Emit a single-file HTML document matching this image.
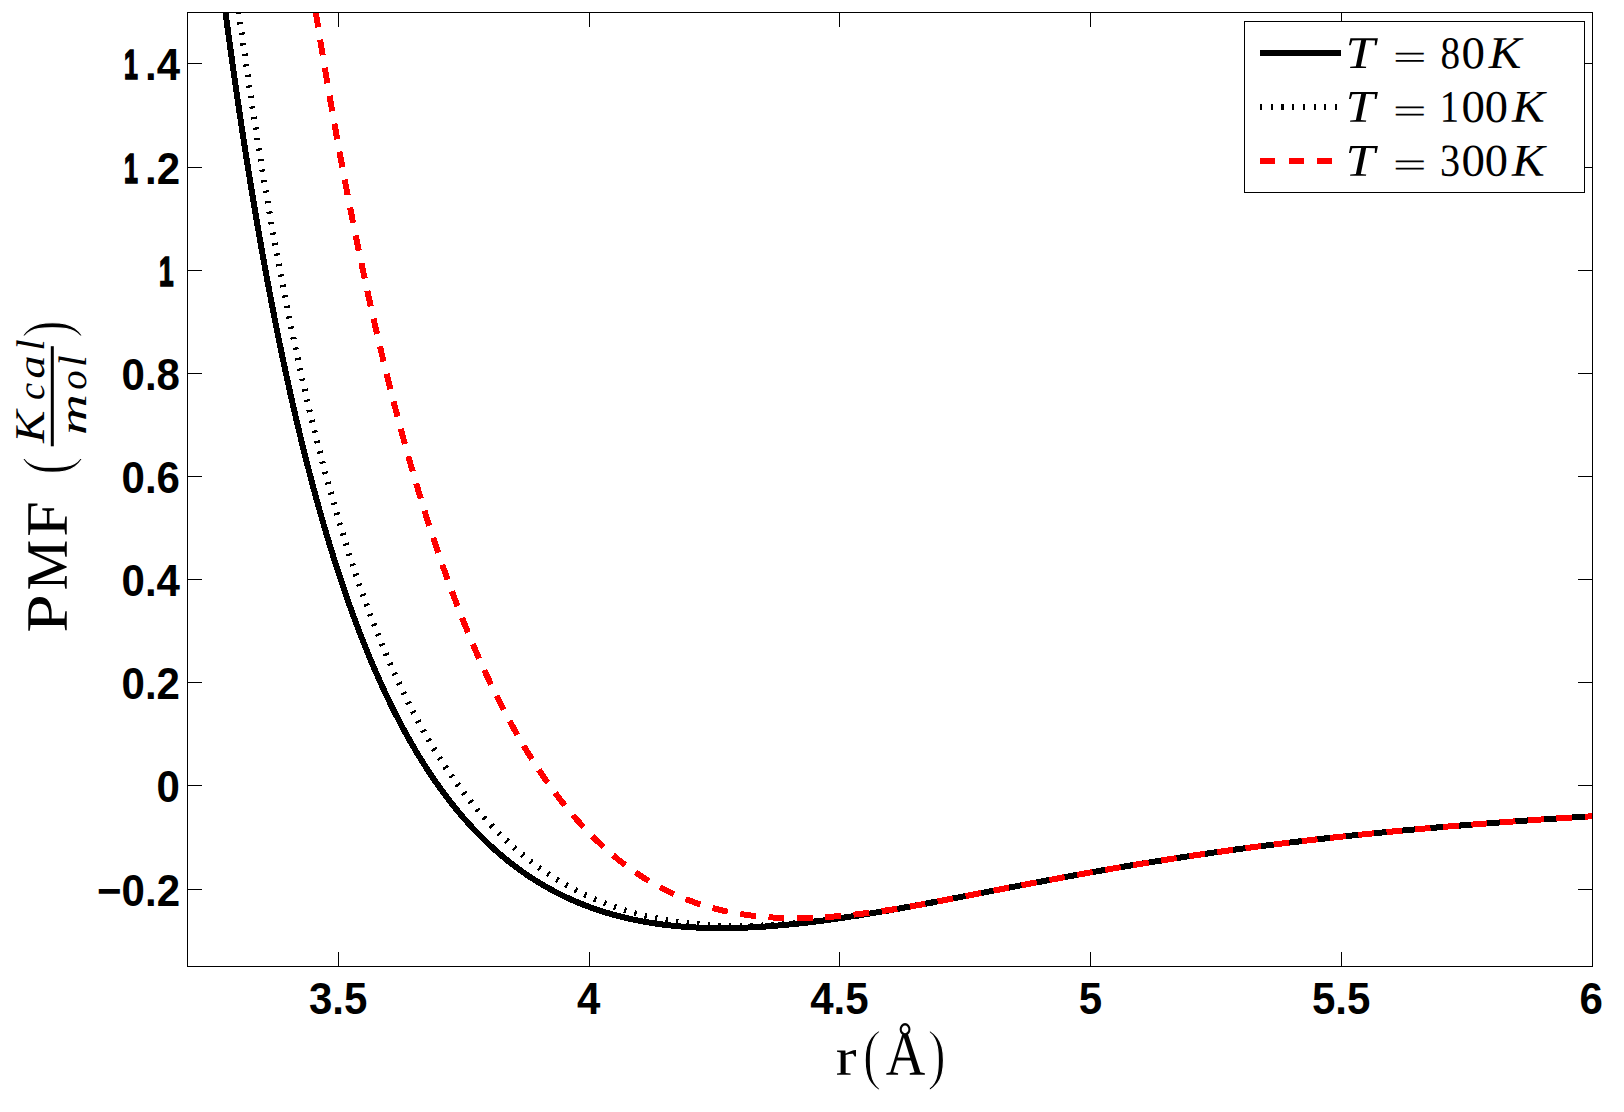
<!DOCTYPE html>
<html><head><meta charset="utf-8"><title>PMF</title>
<style>
html,body{margin:0;padding:0;background:#fff;overflow:hidden;}
svg{display:block;}
.tk{font-family:"Liberation Sans",sans-serif;font-weight:bold;font-size:44px;fill:#000;}
.sf{font-family:"Liberation Serif",serif;fill:#000;}
</style></head><body>
<svg width="1624" height="1112" viewBox="0 0 1624 1112">
<rect x="0" y="0" width="1624" height="1112" fill="#fff"/>
<defs><clipPath id="ax"><rect x="187.5" y="12.5" width="1405.0" height="954.0"/></clipPath></defs>

<g clip-path="url(#ax)" fill="none" stroke-linejoin="round" shape-rendering="crispEdges">
<path d="M221.35,-19.64 L221.55,-18.07 L221.75,-16.51 L221.95,-14.95 L222.15,-13.39 L222.35,-11.84 L222.55,-10.29 L222.75,-8.74 L222.95,-7.19 L223.15,-5.64 L223.35,-4.10 L223.55,-2.56 L223.75,-1.02 L223.95,0.51 L224.15,2.04 L224.35,3.57 L224.55,5.10 L224.75,6.62 L224.95,8.14 L225.15,9.66 L225.35,11.18 L225.55,12.69 L225.75,14.21 L225.95,15.71 L226.15,17.22 L226.35,18.73 L226.55,20.23 L226.75,21.73 L226.95,23.22 L227.15,24.72 L227.35,26.21 L227.55,27.70 L227.75,29.19 L228.00,31.04 L228.25,32.89 L228.50,34.74 L228.75,36.58 L229.00,38.42 L229.25,40.26 L229.50,42.09 L229.75,43.92 L230.00,45.75 L230.25,47.57 L230.50,49.39 L230.75,51.20 L231.00,53.01 L231.25,54.81 L231.50,56.62 L231.75,58.42 L232.00,60.21 L232.25,62.00 L232.50,63.79 L232.75,65.57 L233.00,67.35 L233.25,69.13 L233.50,70.90 L233.75,72.67 L234.00,74.44 L234.25,76.20 L234.50,77.96 L234.75,79.72 L235.00,81.47 L235.25,83.21 L235.50,84.96 L235.75,86.70 L236.00,88.44 L236.25,90.17 L236.50,91.90 L236.75,93.63 L237.00,95.35 L237.25,97.07 L237.50,98.78 L237.75,100.50 L238.00,102.20 L238.25,103.91 L238.50,105.61 L238.75,107.31 L239.00,109.00 L239.25,110.70 L239.50,112.38 L239.75,114.07 L240.00,115.75 L240.25,117.43 L240.50,119.10 L240.75,120.77 L241.00,122.44 L241.25,124.10 L241.50,125.76 L241.75,127.42 L242.00,129.07 L242.25,130.72 L242.50,132.37 L242.75,134.01 L243.00,135.65 L243.25,137.29 L243.50,138.92 L243.75,140.55 L244.00,142.18 L244.25,143.81 L244.50,145.43 L244.75,147.04 L245.00,148.66 L245.25,150.27 L245.50,151.87 L245.75,153.48 L246.00,155.08 L246.25,156.67 L246.50,158.27 L246.75,159.86 L247.00,161.45 L247.25,163.03 L247.50,164.61 L247.75,166.19 L248.00,167.76 L248.25,169.34 L248.50,170.90 L248.75,172.47 L249.00,174.03 L249.25,175.59 L249.50,177.15 L249.75,178.70 L250.00,180.25 L250.25,181.79 L250.50,183.34 L250.75,184.88 L251.00,186.41 L251.25,187.95 L251.50,189.48 L251.75,191.00 L252.00,192.53 L252.25,194.05 L252.50,195.57 L252.75,197.08 L253.00,198.59 L253.25,200.10 L253.50,201.61 L253.75,203.11 L254.00,204.61 L254.25,206.11 L254.50,207.60 L254.75,209.09 L255.00,210.58 L255.25,212.06 L255.50,213.54 L255.80,215.32 L256.10,217.09 L256.40,218.85 L256.70,220.61 L257.00,222.37 L257.30,224.12 L257.60,225.87 L257.90,227.62 L258.20,229.36 L258.50,231.09 L258.80,232.82 L259.10,234.55 L259.40,236.27 L259.70,237.99 L260.00,239.71 L260.30,241.42 L260.60,243.12 L260.90,244.82 L261.20,246.52 L261.50,248.22 L261.80,249.91 L262.10,251.59 L262.40,253.27 L262.70,254.95 L263.00,256.62 L263.30,258.29 L263.60,259.96 L263.90,261.62 L264.20,263.28 L264.50,264.93 L264.80,266.58 L265.10,268.23 L265.40,269.87 L265.70,271.50 L266.00,273.14 L266.30,274.77 L266.60,276.39 L266.90,278.01 L267.20,279.63 L267.50,281.25 L267.80,282.86 L268.10,284.46 L268.40,286.06 L268.70,287.66 L269.00,289.26 L269.30,290.85 L269.60,292.43 L269.90,294.02 L270.20,295.60 L270.50,297.17 L270.80,298.74 L271.10,300.31 L271.40,301.88 L271.70,303.44 L272.00,304.99 L272.30,306.55 L272.60,308.09 L272.90,309.64 L273.20,311.18 L273.50,312.72 L273.80,314.25 L274.10,315.78 L274.40,317.31 L274.70,318.83 L275.00,320.35 L275.30,321.87 L275.60,323.38 L275.90,324.89 L276.20,326.39 L276.50,327.90 L276.80,329.39 L277.10,330.89 L277.40,332.38 L277.70,333.87 L278.00,335.35 L278.30,336.83 L278.60,338.31 L278.90,339.78 L279.25,341.49 L279.60,343.20 L279.95,344.91 L280.30,346.60 L280.65,348.30 L281.00,349.99 L281.35,351.67 L281.70,353.36 L282.05,355.03 L282.40,356.70 L282.75,358.37 L283.10,360.03 L283.45,361.69 L283.80,363.34 L284.15,364.99 L284.50,366.63 L284.85,368.27 L285.20,369.90 L285.55,371.53 L285.90,373.16 L286.25,374.78 L286.60,376.40 L286.95,378.01 L287.30,379.62 L287.65,381.22 L288.00,382.82 L288.35,384.41 L288.70,386.00 L289.05,387.58 L289.40,389.16 L289.75,390.74 L290.10,392.31 L290.45,393.88 L290.80,395.44 L291.15,397.00 L291.50,398.56 L291.85,400.11 L292.20,401.65 L292.55,403.19 L292.90,404.73 L293.25,406.26 L293.60,407.79 L293.95,409.32 L294.30,410.84 L294.65,412.35 L295.00,413.86 L295.35,415.37 L295.70,416.88 L296.05,418.37 L296.40,419.87 L296.75,421.36 L297.10,422.85 L297.45,424.33 L297.80,425.81 L298.15,427.28 L298.50,428.75 L298.85,430.22 L299.20,431.68 L299.60,433.35 L300.00,435.01 L300.40,436.66 L300.80,438.32 L301.20,439.96 L301.60,441.60 L302.00,443.24 L302.40,444.87 L302.80,446.49 L303.20,448.11 L303.60,449.72 L304.00,451.33 L304.40,452.94 L304.80,454.54 L305.20,456.13 L305.60,457.72 L306.00,459.30 L306.40,460.88 L306.80,462.46 L307.20,464.03 L307.60,465.59 L308.00,467.15 L308.40,468.70 L308.80,470.25 L309.20,471.80 L309.60,473.34 L310.00,474.87 L310.40,476.40 L310.80,477.93 L311.20,479.45 L311.60,480.96 L312.00,482.47 L312.40,483.98 L312.80,485.48 L313.20,486.98 L313.60,488.47 L314.00,489.96 L314.40,491.44 L314.80,492.92 L315.20,494.39 L315.60,495.86 L316.00,497.32 L316.40,498.78 L316.80,500.24 L317.20,501.69 L317.60,503.13 L318.05,504.76 L318.50,506.37 L318.95,507.98 L319.40,509.58 L319.85,511.18 L320.30,512.78 L320.75,514.36 L321.20,515.94 L321.65,517.52 L322.10,519.09 L322.55,520.66 L323.00,522.22 L323.45,523.77 L323.90,525.32 L324.35,526.86 L324.80,528.40 L325.25,529.93 L325.70,531.46 L326.15,532.98 L326.60,534.49 L327.05,536.01 L327.50,537.51 L327.95,539.01 L328.40,540.51 L328.85,541.99 L329.30,543.48 L329.75,544.96 L330.20,546.43 L330.65,547.90 L331.10,549.36 L331.55,550.82 L332.00,552.28 L332.45,553.72 L332.90,555.17 L333.35,556.61 L333.80,558.04 L334.30,559.63 L334.80,561.21 L335.30,562.78 L335.80,564.35 L336.30,565.91 L336.80,567.47 L337.30,569.02 L337.80,570.56 L338.30,572.10 L338.80,573.63 L339.30,575.15 L339.80,576.67 L340.30,578.19 L340.80,579.70 L341.30,581.20 L341.80,582.69 L342.30,584.18 L342.80,585.67 L343.30,587.15 L343.80,588.62 L344.30,590.09 L344.80,591.55 L345.30,593.01 L345.80,594.46 L346.30,595.90 L346.80,597.34 L347.30,598.77 L347.80,600.20 L348.30,601.62 L348.80,603.04 L349.35,604.59 L349.90,606.14 L350.45,607.68 L351.00,609.21 L351.55,610.74 L352.10,612.26 L352.65,613.77 L353.20,615.28 L353.75,616.78 L354.30,618.27 L354.85,619.76 L355.40,621.24 L355.95,622.71 L356.50,624.18 L357.05,625.64 L357.60,627.10 L358.15,628.55 L358.70,629.99 L359.25,631.43 L359.80,632.86 L360.35,634.29 L360.90,635.71 L361.45,637.12 L362.00,638.53 L362.55,639.93 L363.15,641.45 L363.75,642.96 L364.35,644.47 L364.95,645.97 L365.55,647.47 L366.15,648.95 L366.75,650.43 L367.35,651.91 L367.95,653.37 L368.55,654.83 L369.15,656.28 L369.75,657.73 L370.35,659.17 L370.95,660.60 L371.55,662.03 L372.15,663.45 L372.75,664.86 L373.35,666.26 L373.95,667.66 L374.55,669.06 L375.15,670.44 L375.75,671.82 L376.40,673.31 L377.05,674.79 L377.70,676.27 L378.35,677.73 L379.00,679.19 L379.65,680.64 L380.30,682.08 L380.95,683.52 L381.60,684.95 L382.25,686.37 L382.90,687.79 L383.55,689.19 L384.20,690.59 L384.85,691.99 L385.50,693.38 L386.15,694.75 L386.80,696.13 L387.45,697.49 L388.10,698.85 L388.75,700.20 L389.45,701.65 L390.15,703.09 L390.85,704.53 L391.55,705.95 L392.25,707.37 L392.95,708.78 L393.65,710.18 L394.35,711.58 L395.05,712.96 L395.75,714.34 L396.45,715.72 L397.15,717.08 L397.85,718.44 L398.55,719.79 L399.25,721.13 L399.95,722.47 L400.65,723.79 L401.40,725.21 L402.15,726.62 L402.90,728.02 L403.65,729.41 L404.40,730.79 L405.15,732.16 L405.90,733.53 L406.65,734.89 L407.40,736.24 L408.15,737.58 L408.90,738.92 L409.65,740.24 L410.40,741.56 L411.15,742.88 L411.90,744.18 L412.70,745.56 L413.50,746.94 L414.30,748.30 L415.10,749.66 L415.90,751.01 L416.70,752.35 L417.50,753.68 L418.30,755.01 L419.10,756.32 L419.90,757.63 L420.70,758.93 L421.50,760.22 L422.30,761.50 L423.10,762.78 L423.95,764.12 L424.80,765.46 L425.65,766.79 L426.50,768.11 L427.35,769.42 L428.20,770.72 L429.05,772.02 L429.90,773.30 L430.75,774.58 L431.60,775.85 L432.45,777.11 L433.30,778.36 L434.15,779.60 L435.05,780.91 L435.95,782.21 L436.85,783.49 L437.75,784.77 L438.65,786.05 L439.55,787.31 L440.45,788.56 L441.35,789.80 L442.25,791.04 L443.15,792.27 L444.05,793.48 L444.95,794.69 L445.85,795.89 L446.80,797.15 L447.75,798.40 L448.70,799.64 L449.65,800.87 L450.60,802.09 L451.55,803.30 L452.50,804.50 L453.45,805.70 L454.40,806.88 L455.35,808.06 L456.30,809.22 L457.30,810.44 L458.30,811.65 L459.30,812.85 L460.30,814.04 L461.30,815.22 L462.30,816.39 L463.30,817.55 L464.30,818.71 L465.30,819.85 L466.30,820.98 L467.30,822.11 L468.35,823.28 L469.40,824.44 L470.45,825.59 L471.50,826.73 L472.55,827.87 L473.60,828.99 L474.65,830.10 L475.70,831.21 L476.75,832.30 L477.80,833.38 L478.85,834.46 L479.95,835.58 L481.05,836.69 L482.15,837.78 L483.25,838.87 L484.35,839.95 L485.45,841.02 L486.55,842.07 L487.65,843.12 L488.75,844.16 L489.85,845.19 L490.95,846.21 L492.10,847.27 L493.25,848.32 L494.40,849.35 L495.55,850.38 L496.70,851.40 L497.85,852.41 L499.00,853.40 L500.15,854.39 L501.30,855.37 L502.45,856.34 L503.65,857.34 L504.85,858.33 L506.05,859.32 L507.25,860.29 L508.45,861.25 L509.65,862.20 L510.85,863.14 L512.05,864.08 L513.25,865.00 L514.45,865.91 L515.65,866.82 L516.90,867.75 L518.15,868.67 L519.40,869.58 L520.65,870.48 L521.90,871.38 L523.15,872.26 L524.40,873.13 L525.65,873.99 L526.90,874.85 L528.15,875.69 L529.40,876.53 L530.70,877.38 L532.00,878.23 L533.30,879.07 L534.60,879.90 L535.90,880.72 L537.20,881.53 L538.50,882.33 L539.80,883.12 L541.10,883.90 L542.40,884.67 L543.70,885.44 L545.00,886.19 L546.35,886.96 L547.70,887.73 L549.05,888.48 L550.40,889.23 L551.75,889.96 L553.10,890.69 L554.45,891.40 L555.80,892.11 L557.15,892.81 L558.50,893.50 L559.85,894.18 L561.20,894.85 L562.55,895.51 L563.95,896.19 L565.35,896.86 L566.75,897.51 L568.15,898.16 L569.55,898.80 L570.95,899.44 L572.35,900.06 L573.75,900.67 L575.15,901.28 L576.55,901.88 L577.95,902.46 L579.35,903.04 L580.75,903.61 L582.15,904.18 L583.55,904.73 L584.95,905.28 L586.40,905.83 L587.85,906.38 L589.30,906.92 L590.75,907.45 L592.20,907.98 L593.65,908.49 L595.10,909.00 L596.55,909.49 L598.00,909.98 L599.45,910.47 L600.90,910.94 L602.35,911.40 L603.80,911.86 L605.25,912.31 L606.70,912.75 L608.15,913.19 L609.60,913.62 L611.05,914.03 L612.50,914.45 L613.95,914.85 L615.40,915.25 L616.85,915.64 L618.35,916.03 L619.85,916.42 L621.35,916.80 L622.85,917.17 L624.35,917.54 L625.85,917.90 L627.35,918.25 L628.85,918.59 L630.35,918.93 L631.85,919.26 L633.35,919.58 L634.85,919.89 L636.35,920.20 L637.85,920.50 L639.35,920.80 L640.85,921.09 L642.35,921.37 L643.85,921.64 L645.35,921.91 L646.85,922.17 L648.35,922.43 L649.85,922.67 L651.35,922.92 L652.85,923.15 L654.35,923.38 L655.85,923.61 L657.35,923.82 L658.85,924.03 L660.35,924.24 L661.85,924.44 L663.35,924.63 L664.85,924.82 L666.35,925.00 L667.85,925.18 L669.35,925.35 L670.85,925.51 L672.35,925.67 L673.85,925.83 L675.35,925.97 L676.85,926.12 L678.35,926.25 L679.85,926.39 L681.35,926.51 L682.85,926.63 L684.35,926.75 L685.85,926.86 L687.35,926.97 L688.85,927.07 L690.35,927.17 L691.85,927.26 L693.35,927.34 L694.85,927.42 L696.35,927.50 L697.85,927.57 L699.35,927.64 L700.85,927.70 L702.35,927.76 L703.85,927.81 L705.35,927.86 L706.85,927.90 L708.35,927.94 L709.85,927.98 L711.35,928.01 L712.85,928.04 L714.35,928.06 L715.85,928.08 L717.35,928.09 L718.85,928.10 L720.35,928.10 L721.85,928.10 L723.35,928.10 L724.85,928.09 L726.35,928.08 L727.85,928.07 L729.35,928.05 L730.85,928.03 L732.35,928.00 L733.85,927.97 L735.35,927.94 L736.85,927.90 L738.35,927.86 L739.85,927.81 L741.35,927.76 L742.85,927.71 L744.35,927.65 L745.85,927.59 L747.35,927.53 L748.85,927.46 L750.35,927.39 L751.85,927.32 L753.35,927.24 L754.85,927.16 L756.35,927.08 L757.85,926.99 L759.35,926.90 L760.85,926.81 L762.35,926.71 L763.85,926.62 L765.35,926.51 L766.85,926.41 L768.35,926.30 L769.85,926.19 L771.35,926.07 L772.85,925.96 L774.35,925.84 L775.85,925.71 L777.35,925.59 L778.85,925.46 L780.35,925.33 L781.85,925.19 L783.35,925.06 L784.85,924.92 L786.35,924.78 L787.85,924.63 L789.35,924.48 L790.85,924.34 L792.35,924.18 L793.85,924.03 L795.35,923.87 L796.85,923.71 L798.35,923.55 L799.85,923.38 L801.35,923.22 L802.85,923.05 L804.35,922.88 L805.85,922.70 L807.35,922.53 L808.85,922.35 L810.35,922.17 L811.85,921.99 L813.35,921.80 L814.85,921.61 L816.35,921.42 L817.85,921.23 L819.35,921.04 L820.85,920.85 L822.35,920.65 L823.85,920.45 L825.35,920.25 L826.85,920.05 L828.35,919.84 L829.85,919.63 L831.35,919.43 L832.85,919.22 L834.35,919.00 L835.85,918.79 L837.35,918.58 L838.85,918.36 L840.35,918.14 L841.85,917.92 L843.35,917.70 L844.85,917.47 L846.35,917.25 L847.85,917.02 L849.35,916.79 L850.85,916.56 L852.35,916.33 L853.85,916.10 L855.35,915.86 L856.85,915.63 L858.35,915.39 L859.85,915.15 L861.35,914.91 L862.85,914.67 L864.35,914.43 L865.85,914.18 L867.35,913.94 L868.85,913.69 L870.35,913.44 L871.85,913.19 L873.35,912.94 L874.85,912.69 L876.35,912.44 L877.85,912.19 L879.35,911.93 L880.85,911.68 L882.35,911.42 L883.85,911.16 L885.35,910.90 L886.85,910.64 L888.35,910.38 L889.85,910.12 L891.35,909.86 L892.85,909.59 L894.35,909.33 L895.85,909.06 L897.35,908.80 L898.85,908.53 L900.35,908.26 L901.85,907.99 L903.35,907.72 L904.85,907.45 L906.35,907.18 L907.85,906.91 L909.35,906.63 L910.85,906.36 L912.35,906.09 L913.85,905.81 L915.35,905.54 L916.85,905.26 L918.35,904.98 L919.85,904.71 L921.35,904.43 L922.85,904.15 L924.35,903.87 L925.85,903.59 L927.35,903.31 L928.85,903.03 L930.35,902.75 L931.85,902.46 L933.35,902.18 L934.85,901.90 L936.35,901.62 L937.85,901.33 L939.35,901.05 L940.85,900.76 L942.35,900.48 L943.85,900.19 L945.35,899.91 L946.85,899.62 L948.35,899.34 L949.85,899.05 L951.35,898.76 L952.85,898.48 L954.35,898.19 L955.85,897.90 L957.35,897.61 L958.85,897.33 L960.35,897.04 L961.85,896.75 L963.35,896.46 L964.85,896.17 L966.35,895.88 L967.85,895.59 L969.35,895.30 L970.85,895.01 L972.35,894.73 L973.85,894.44 L975.35,894.15 L976.85,893.86 L978.35,893.57 L979.85,893.28 L981.35,892.99 L982.85,892.70 L984.35,892.41 L985.85,892.12 L987.35,891.83 L988.85,891.54 L990.35,891.25 L991.85,890.96 L993.35,890.67 L994.85,890.38 L996.35,890.09 L997.85,889.80 L999.35,889.51 L1000.85,889.22 L1002.35,888.93 L1003.85,888.64 L1005.35,888.36 L1006.85,888.07 L1008.35,887.78 L1009.85,887.49 L1011.35,887.20 L1012.85,886.91 L1014.35,886.63 L1015.85,886.34 L1017.35,886.05 L1018.85,885.76 L1020.35,885.48 L1021.85,885.19 L1023.35,884.90 L1024.85,884.62 L1026.35,884.33 L1027.85,884.05 L1029.35,883.76 L1030.85,883.48 L1032.35,883.19 L1033.85,882.91 L1035.35,882.62 L1036.85,882.34 L1038.35,882.06 L1039.85,881.77 L1041.35,881.49 L1042.85,881.21 L1044.35,880.93 L1045.85,880.64 L1047.35,880.36 L1048.85,880.08 L1050.35,879.80 L1051.85,879.52 L1053.35,879.24 L1054.85,878.96 L1056.35,878.68 L1057.85,878.41 L1059.35,878.13 L1060.85,877.85 L1062.35,877.57 L1063.85,877.30 L1065.35,877.02 L1066.85,876.74 L1068.35,876.47 L1069.85,876.19 L1071.35,875.92 L1072.85,875.65 L1074.35,875.37 L1075.85,875.10 L1077.35,874.83 L1078.85,874.56 L1080.35,874.29 L1081.85,874.01 L1083.35,873.74 L1084.85,873.47 L1086.35,873.20 L1087.85,872.94 L1089.35,872.67 L1090.85,872.40 L1092.35,872.13 L1093.85,871.87 L1095.35,871.60 L1096.85,871.34 L1098.35,871.07 L1099.85,870.81 L1101.35,870.54 L1102.85,870.28 L1104.35,870.02 L1105.85,869.75 L1107.35,869.49 L1108.85,869.23 L1110.35,868.97 L1111.85,868.71 L1113.35,868.45 L1114.85,868.20 L1116.35,867.94 L1117.85,867.68 L1119.35,867.42 L1120.85,867.17 L1122.35,866.91 L1123.85,866.66 L1125.35,866.40 L1126.85,866.15 L1128.35,865.90 L1129.85,865.64 L1131.35,865.39 L1132.85,865.14 L1134.35,864.89 L1135.85,864.64 L1137.35,864.39 L1138.85,864.14 L1140.35,863.90 L1141.85,863.65 L1143.35,863.40 L1144.85,863.16 L1146.35,862.91 L1147.85,862.67 L1149.35,862.42 L1150.85,862.18 L1152.35,861.94 L1153.85,861.70 L1155.35,861.45 L1156.85,861.21 L1158.35,860.97 L1159.85,860.73 L1161.35,860.50 L1162.85,860.26 L1164.35,860.02 L1165.85,859.78 L1167.35,859.55 L1168.85,859.31 L1170.35,859.08 L1171.85,858.84 L1173.35,858.61 L1174.85,858.38 L1176.35,858.15 L1177.85,857.92 L1179.35,857.68 L1180.85,857.45 L1182.35,857.23 L1183.85,857.00 L1185.35,856.77 L1186.85,856.54 L1188.35,856.32 L1189.85,856.09 L1191.35,855.86 L1192.85,855.64 L1194.35,855.42 L1195.85,855.19 L1197.35,854.97 L1198.85,854.75 L1200.35,854.53 L1201.85,854.31 L1203.35,854.09 L1204.85,853.87 L1206.35,853.65 L1207.85,853.43 L1209.35,853.22 L1210.85,853.00 L1212.35,852.78 L1213.85,852.57 L1215.35,852.35 L1216.85,852.14 L1218.35,851.93 L1219.85,851.72 L1221.35,851.50 L1222.85,851.29 L1224.35,851.08 L1225.85,850.87 L1227.35,850.66 L1228.85,850.46 L1230.35,850.25 L1231.85,850.04 L1233.35,849.84 L1234.85,849.63 L1236.35,849.42 L1237.85,849.22 L1239.35,849.02 L1240.85,848.81 L1242.35,848.61 L1243.85,848.41 L1245.35,848.21 L1246.85,848.01 L1248.35,847.81 L1249.85,847.61 L1251.35,847.41 L1252.85,847.21 L1254.35,847.02 L1255.85,846.82 L1257.35,846.63 L1258.85,846.43 L1260.35,846.24 L1261.85,846.04 L1263.35,845.85 L1264.85,845.66 L1266.35,845.47 L1267.85,845.27 L1269.35,845.08 L1270.85,844.89 L1272.35,844.71 L1273.85,844.52 L1275.35,844.33 L1276.85,844.14 L1278.35,843.95 L1279.85,843.77 L1281.35,843.58 L1282.85,843.40 L1284.35,843.21 L1285.85,843.03 L1287.35,842.85 L1288.85,842.67 L1290.35,842.48 L1291.85,842.30 L1293.35,842.12 L1294.85,841.94 L1296.35,841.76 L1297.85,841.59 L1299.35,841.41 L1300.85,841.23 L1302.35,841.05 L1303.85,840.88 L1305.35,840.70 L1306.85,840.53 L1308.35,840.35 L1309.85,840.18 L1311.35,840.01 L1312.85,839.83 L1314.35,839.66 L1315.85,839.49 L1317.35,839.32 L1318.85,839.15 L1320.35,838.98 L1321.85,838.81 L1323.35,838.64 L1324.85,838.48 L1326.35,838.31 L1327.85,838.14 L1329.35,837.98 L1330.85,837.81 L1332.35,837.65 L1333.85,837.48 L1335.35,837.32 L1336.85,837.16 L1338.35,836.99 L1339.85,836.83 L1341.35,836.67 L1342.85,836.51 L1344.35,836.35 L1345.85,836.19 L1347.35,836.03 L1348.85,835.87 L1350.35,835.71 L1351.85,835.56 L1353.35,835.40 L1354.85,835.24 L1356.35,835.09 L1357.85,834.93 L1359.35,834.78 L1360.85,834.62 L1362.35,834.47 L1363.85,834.32 L1365.35,834.16 L1366.85,834.01 L1368.35,833.86 L1369.85,833.71 L1371.35,833.56 L1372.85,833.41 L1374.35,833.26 L1375.85,833.11 L1377.35,832.96 L1378.85,832.81 L1380.35,832.67 L1381.85,832.52 L1383.35,832.37 L1384.85,832.23 L1386.35,832.08 L1387.85,831.94 L1389.35,831.79 L1390.85,831.65 L1392.35,831.51 L1393.85,831.36 L1395.35,831.22 L1396.85,831.08 L1398.35,830.94 L1399.85,830.80 L1401.35,830.66 L1402.85,830.52 L1404.35,830.38 L1405.85,830.24 L1407.35,830.10 L1408.85,829.96 L1410.35,829.83 L1411.85,829.69 L1413.35,829.55 L1414.85,829.42 L1416.35,829.28 L1417.85,829.15 L1419.35,829.01 L1420.85,828.88 L1422.35,828.75 L1423.85,828.61 L1425.35,828.48 L1426.85,828.35 L1428.35,828.22 L1429.85,828.08 L1431.35,827.95 L1432.85,827.82 L1434.35,827.69 L1435.85,827.56 L1437.35,827.44 L1438.85,827.31 L1440.35,827.18 L1441.85,827.05 L1443.35,826.92 L1444.85,826.80 L1446.35,826.67 L1447.85,826.55 L1449.35,826.42 L1450.85,826.30 L1452.35,826.17 L1453.85,826.05 L1455.35,825.92 L1456.85,825.80 L1458.35,825.68 L1459.85,825.56 L1461.35,825.43 L1462.85,825.31 L1464.35,825.19 L1465.85,825.07 L1467.35,824.95 L1468.85,824.83 L1470.35,824.71 L1471.85,824.59 L1473.35,824.47 L1474.85,824.36 L1476.35,824.24 L1477.85,824.12 L1479.35,824.00 L1480.85,823.89 L1482.35,823.77 L1483.85,823.66 L1485.35,823.54 L1486.85,823.43 L1488.35,823.31 L1489.85,823.20 L1491.35,823.08 L1492.85,822.97 L1494.35,822.86 L1495.85,822.75 L1497.35,822.63 L1498.85,822.52 L1500.35,822.41 L1501.85,822.30 L1503.35,822.19 L1504.85,822.08 L1506.35,821.97 L1507.85,821.86 L1509.35,821.75 L1510.85,821.64 L1512.35,821.53 L1513.85,821.43 L1515.35,821.32 L1516.85,821.21 L1518.35,821.10 L1519.85,821.00 L1521.35,820.89 L1522.85,820.79 L1524.35,820.68 L1525.85,820.57 L1527.35,820.47 L1528.85,820.37 L1530.35,820.26 L1531.85,820.16 L1533.35,820.06 L1534.85,819.95 L1536.35,819.85 L1537.85,819.75 L1539.35,819.65 L1540.85,819.54 L1542.35,819.44 L1543.85,819.34 L1545.35,819.24 L1546.85,819.14 L1548.35,819.04 L1549.85,818.94 L1551.35,818.84 L1552.85,818.75 L1554.35,818.65 L1555.85,818.55 L1557.35,818.45 L1558.85,818.35 L1560.35,818.26 L1561.85,818.16 L1563.35,818.06 L1564.85,817.97 L1566.35,817.87 L1567.85,817.78 L1569.35,817.68 L1570.85,817.59 L1572.35,817.49 L1573.85,817.40 L1575.35,817.30 L1576.85,817.21 L1578.35,817.12 L1579.85,817.02 L1581.35,816.93 L1582.85,816.84 L1584.35,816.75 L1585.85,816.66 L1587.35,816.57 L1588.85,816.47 L1590.35,816.38 L1591.85,816.29 L1593.35,816.20 L1594.85,816.11 L1596.35,816.02 L1597.85,815.93 L1599.35,815.85 L1600.00,815.81" stroke="#000" stroke-width="6"/>
<path d="M234.55,-19.87 L234.75,-18.34 L234.95,-16.82 L235.15,-15.30 L235.35,-13.78 L235.55,-12.26 L235.75,-10.75 L235.95,-9.23 L236.15,-7.73 L236.35,-6.22 L236.55,-4.72 L236.75,-3.21 L236.95,-1.71 L237.15,-0.22 L237.35,1.28 L237.55,2.77 L237.75,4.26 L237.95,5.74 L238.20,7.60 L238.45,9.45 L238.70,11.30 L238.95,13.14 L239.20,14.98 L239.45,16.82 L239.70,18.65 L239.95,20.48 L240.20,22.31 L240.45,24.13 L240.70,25.95 L240.95,27.76 L241.20,29.57 L241.45,31.38 L241.70,33.18 L241.95,34.98 L242.20,36.78 L242.45,38.57 L242.70,40.36 L242.95,42.14 L243.20,43.92 L243.45,45.70 L243.70,47.47 L243.95,49.25 L244.20,51.01 L244.45,52.78 L244.70,54.54 L244.95,56.29 L245.20,58.04 L245.45,59.79 L245.70,61.54 L245.95,63.28 L246.20,65.02 L246.45,66.75 L246.70,68.49 L246.95,70.21 L247.20,71.94 L247.45,73.66 L247.70,75.38 L247.95,77.09 L248.20,78.80 L248.45,80.51 L248.70,82.21 L248.95,83.91 L249.20,85.61 L249.45,87.30 L249.70,88.99 L249.95,90.68 L250.20,92.36 L250.45,94.04 L250.70,95.72 L250.95,97.39 L251.20,99.06 L251.45,100.72 L251.70,102.39 L251.95,104.05 L252.20,105.70 L252.45,107.36 L252.70,109.01 L252.95,110.65 L253.20,112.29 L253.45,113.93 L253.70,115.57 L253.95,117.20 L254.20,118.83 L254.45,120.46 L254.70,122.08 L254.95,123.70 L255.20,125.32 L255.45,126.93 L255.70,128.54 L255.95,130.15 L256.20,131.75 L256.45,133.35 L256.70,134.95 L256.95,136.54 L257.20,138.13 L257.45,139.72 L257.70,141.31 L257.95,142.89 L258.20,144.47 L258.45,146.04 L258.70,147.61 L258.95,149.18 L259.20,150.75 L259.45,152.31 L259.70,153.87 L259.95,155.42 L260.20,156.98 L260.45,158.53 L260.70,160.07 L260.95,161.62 L261.20,163.16 L261.45,164.69 L261.70,166.23 L261.95,167.76 L262.20,169.29 L262.45,170.81 L262.70,172.34 L262.95,173.85 L263.20,175.37 L263.45,176.88 L263.70,178.39 L263.95,179.90 L264.20,181.40 L264.45,182.91 L264.70,184.40 L264.95,185.90 L265.20,187.39 L265.45,188.88 L265.70,190.37 L265.95,191.85 L266.20,193.33 L266.50,195.10 L266.80,196.87 L267.10,198.63 L267.40,200.39 L267.70,202.15 L268.00,203.90 L268.30,205.65 L268.60,207.39 L268.90,209.13 L269.20,210.86 L269.50,212.59 L269.80,214.32 L270.10,216.04 L270.40,217.76 L270.70,219.47 L271.00,221.18 L271.30,222.89 L271.60,224.59 L271.90,226.29 L272.20,227.98 L272.50,229.67 L272.80,231.36 L273.10,233.04 L273.40,234.72 L273.70,236.39 L274.00,238.06 L274.30,239.72 L274.60,241.39 L274.90,243.04 L275.20,244.70 L275.50,246.35 L275.80,247.99 L276.10,249.64 L276.40,251.27 L276.70,252.91 L277.00,254.54 L277.30,256.16 L277.60,257.79 L277.90,259.41 L278.20,261.02 L278.50,262.63 L278.80,264.24 L279.10,265.84 L279.40,267.44 L279.70,269.04 L280.00,270.63 L280.30,272.22 L280.60,273.80 L280.90,275.39 L281.20,276.96 L281.50,278.54 L281.80,280.11 L282.10,281.67 L282.40,283.23 L282.70,284.79 L283.00,286.35 L283.30,287.90 L283.60,289.45 L283.90,290.99 L284.20,292.53 L284.50,294.07 L284.80,295.60 L285.10,297.13 L285.40,298.65 L285.70,300.18 L286.00,301.70 L286.30,303.21 L286.60,304.72 L286.90,306.23 L287.20,307.73 L287.50,309.24 L287.80,310.73 L288.10,312.23 L288.40,313.72 L288.70,315.20 L289.00,316.69 L289.30,318.17 L289.60,319.64 L289.90,321.12 L290.25,322.83 L290.60,324.54 L290.95,326.24 L291.30,327.94 L291.65,329.64 L292.00,331.33 L292.35,333.01 L292.70,334.70 L293.05,336.37 L293.40,338.04 L293.75,339.71 L294.10,341.38 L294.45,343.03 L294.80,344.69 L295.15,346.34 L295.50,347.98 L295.85,349.62 L296.20,351.26 L296.55,352.89 L296.90,354.52 L297.25,356.14 L297.60,357.76 L297.95,359.37 L298.30,360.98 L298.65,362.59 L299.00,364.19 L299.35,365.78 L299.70,367.37 L300.05,368.96 L300.40,370.54 L300.75,372.12 L301.10,373.70 L301.45,375.27 L301.80,376.83 L302.15,378.40 L302.50,379.95 L302.85,381.51 L303.20,383.06 L303.55,384.60 L303.90,386.14 L304.25,387.68 L304.60,389.21 L304.95,390.74 L305.30,392.26 L305.65,393.78 L306.00,395.30 L306.35,396.81 L306.70,398.32 L307.05,399.82 L307.40,401.32 L307.75,402.82 L308.10,404.31 L308.45,405.79 L308.80,407.28 L309.15,408.76 L309.50,410.23 L309.85,411.70 L310.20,413.17 L310.55,414.63 L310.90,416.09 L311.30,417.76 L311.70,419.41 L312.10,421.07 L312.50,422.71 L312.90,424.36 L313.30,425.99 L313.70,427.63 L314.10,429.25 L314.50,430.88 L314.90,432.49 L315.30,434.10 L315.70,435.71 L316.10,437.31 L316.50,438.91 L316.90,440.50 L317.30,442.09 L317.70,443.68 L318.10,445.25 L318.50,446.83 L318.90,448.39 L319.30,449.96 L319.70,451.52 L320.10,453.07 L320.50,454.62 L320.90,456.16 L321.30,457.70 L321.70,459.24 L322.10,460.77 L322.50,462.29 L322.90,463.81 L323.30,465.33 L323.70,466.84 L324.10,468.35 L324.50,469.85 L324.90,471.35 L325.30,472.84 L325.70,474.33 L326.10,475.81 L326.50,477.29 L326.90,478.77 L327.30,480.24 L327.70,481.70 L328.10,483.16 L328.50,484.62 L328.90,486.07 L329.30,487.52 L329.75,489.14 L330.20,490.76 L330.65,492.37 L331.10,493.98 L331.55,495.58 L332.00,497.18 L332.45,498.77 L332.90,500.35 L333.35,501.93 L333.80,503.51 L334.25,505.08 L334.70,506.64 L335.15,508.20 L335.60,509.75 L336.05,511.30 L336.50,512.84 L336.95,514.38 L337.40,515.91 L337.85,517.43 L338.30,518.95 L338.75,520.47 L339.20,521.98 L339.65,523.49 L340.10,524.99 L340.55,526.48 L341.00,527.97 L341.45,529.46 L341.90,530.94 L342.35,532.41 L342.80,533.88 L343.25,535.35 L343.70,536.81 L344.15,538.26 L344.60,539.71 L345.05,541.15 L345.50,542.59 L345.95,544.03 L346.45,545.62 L346.95,547.20 L347.45,548.78 L347.95,550.35 L348.45,551.91 L348.95,553.47 L349.45,555.03 L349.95,556.57 L350.45,558.11 L350.95,559.65 L351.45,561.18 L351.95,562.70 L352.45,564.22 L352.95,565.73 L353.45,567.24 L353.95,568.74 L354.45,570.24 L354.95,571.73 L355.45,573.21 L355.95,574.69 L356.45,576.16 L356.95,577.63 L357.45,579.09 L357.95,580.55 L358.45,582.00 L358.95,583.44 L359.45,584.88 L359.95,586.32 L360.45,587.75 L360.95,589.17 L361.45,590.59 L362.00,592.14 L362.55,593.69 L363.10,595.23 L363.65,596.76 L364.20,598.29 L364.75,599.81 L365.30,601.33 L365.85,602.84 L366.40,604.34 L366.95,605.84 L367.50,607.33 L368.05,608.82 L368.60,610.29 L369.15,611.77 L369.70,613.23 L370.25,614.69 L370.80,616.15 L371.35,617.60 L371.90,619.04 L372.45,620.48 L373.00,621.91 L373.55,623.33 L374.10,624.75 L374.65,626.16 L375.20,627.57 L375.75,628.97 L376.35,630.49 L376.95,632.01 L377.55,633.52 L378.15,635.02 L378.75,636.51 L379.35,638.00 L379.95,639.48 L380.55,640.96 L381.15,642.42 L381.75,643.89 L382.35,645.34 L382.95,646.79 L383.55,648.23 L384.15,649.67 L384.75,651.10 L385.35,652.52 L385.95,653.94 L386.55,655.35 L387.15,656.75 L387.75,658.15 L388.35,659.54 L388.95,660.92 L389.55,662.30 L390.20,663.79 L390.85,665.27 L391.50,666.74 L392.15,668.20 L392.80,669.66 L393.45,671.11 L394.10,672.56 L394.75,673.99 L395.40,675.42 L396.05,676.85 L396.70,678.26 L397.35,679.67 L398.00,681.07 L398.65,682.47 L399.30,683.86 L399.95,685.24 L400.60,686.61 L401.25,687.98 L401.90,689.34 L402.55,690.70 L403.25,692.15 L403.95,693.60 L404.65,695.03 L405.35,696.46 L406.05,697.89 L406.75,699.30 L407.45,700.71 L408.15,702.11 L408.85,703.50 L409.55,704.89 L410.25,706.26 L410.95,707.63 L411.65,709.00 L412.35,710.36 L413.05,711.71 L413.75,713.05 L414.45,714.38 L415.15,715.71 L415.90,717.13 L416.65,718.54 L417.40,719.94 L418.15,721.33 L418.90,722.71 L419.65,724.09 L420.40,725.46 L421.15,726.82 L421.90,728.17 L422.65,729.52 L423.40,730.86 L424.15,732.19 L424.90,733.51 L425.65,734.83 L426.40,736.14 L427.15,737.44 L427.95,738.82 L428.75,740.19 L429.55,741.55 L430.35,742.91 L431.15,744.26 L431.95,745.60 L432.75,746.93 L433.55,748.25 L434.35,749.57 L435.15,750.87 L435.95,752.17 L436.75,753.47 L437.55,754.75 L438.35,756.03 L439.15,757.30 L440.00,758.64 L440.85,759.97 L441.70,761.29 L442.55,762.60 L443.40,763.91 L444.25,765.21 L445.10,766.50 L445.95,767.78 L446.80,769.05 L447.65,770.32 L448.50,771.57 L449.35,772.82 L450.20,774.06 L451.10,775.37 L452.00,776.66 L452.90,777.95 L453.80,779.23 L454.70,780.50 L455.60,781.76 L456.50,783.01 L457.40,784.26 L458.30,785.49 L459.20,786.72 L460.10,787.94 L461.00,789.15 L461.90,790.35 L462.85,791.61 L463.80,792.87 L464.75,794.11 L465.70,795.34 L466.65,796.57 L467.60,797.78 L468.55,798.99 L469.50,800.19 L470.45,801.37 L471.40,802.56 L472.35,803.73 L473.30,804.89 L474.30,806.11 L475.30,807.31 L476.30,808.51 L477.30,809.70 L478.30,810.88 L479.30,812.05 L480.30,813.21 L481.30,814.36 L482.30,815.50 L483.30,816.64 L484.30,817.76 L485.35,818.93 L486.40,820.10 L487.45,821.25 L488.50,822.39 L489.55,823.53 L490.60,824.65 L491.65,825.77 L492.70,826.88 L493.75,827.98 L494.80,829.06 L495.85,830.14 L496.95,831.27 L498.05,832.38 L499.15,833.48 L500.25,834.57 L501.35,835.66 L502.45,836.73 L503.55,837.80 L504.65,838.85 L505.75,839.90 L506.85,840.94 L507.95,841.96 L509.10,843.03 L510.25,844.08 L511.40,845.13 L512.55,846.17 L513.70,847.19 L514.85,848.21 L516.00,849.22 L517.15,850.22 L518.30,851.21 L519.45,852.19 L520.60,853.16 L521.80,854.16 L523.00,855.15 L524.20,856.14 L525.40,857.11 L526.60,858.07 L527.80,859.03 L529.00,859.97 L530.20,860.91 L531.40,861.84 L532.60,862.75 L533.80,863.66 L535.05,864.60 L536.30,865.53 L537.55,866.44 L538.80,867.35 L540.05,868.25 L541.30,869.14 L542.55,870.02 L543.80,870.88 L545.05,871.74 L546.30,872.60 L547.55,873.44 L548.80,874.27 L550.10,875.13 L551.40,875.97 L552.70,876.81 L554.00,877.64 L555.30,878.46 L556.60,879.27 L557.90,880.06 L559.20,880.86 L560.50,881.64 L561.80,882.41 L563.10,883.17 L564.40,883.93 L565.75,884.70 L567.10,885.46 L568.45,886.22 L569.80,886.96 L571.15,887.70 L572.50,888.43 L573.85,889.15 L575.20,889.86 L576.55,890.56 L577.90,891.25 L579.25,891.93 L580.60,892.60 L581.95,893.27 L583.30,893.92 L584.70,894.60 L586.10,895.26 L587.50,895.91 L588.90,896.56 L590.30,897.19 L591.70,897.82 L593.10,898.44 L594.50,899.04 L595.90,899.65 L597.30,900.24 L598.70,900.82 L600.10,901.40 L601.50,901.96 L602.90,902.52 L604.30,903.07 L605.70,903.61 L607.15,904.17 L608.60,904.71 L610.05,905.25 L611.50,905.78 L612.95,906.29 L614.40,906.81 L615.85,907.31 L617.30,907.80 L618.75,908.29 L620.20,908.77 L621.65,909.24 L623.10,909.70 L624.55,910.15 L626.00,910.60 L627.45,911.04 L628.90,911.47 L630.35,911.90 L631.80,912.31 L633.25,912.72 L634.70,913.12 L636.15,913.52 L637.60,913.90 L639.10,914.29 L640.60,914.68 L642.10,915.06 L643.60,915.43 L645.10,915.79 L646.60,916.14 L648.10,916.49 L649.60,916.83 L651.10,917.16 L652.60,917.49 L654.10,917.81 L655.60,918.12 L657.10,918.42 L658.60,918.72 L660.10,919.01 L661.60,919.30 L663.10,919.57 L664.60,919.84 L666.10,920.11 L667.60,920.37 L669.10,920.62 L670.60,920.86 L672.10,921.10 L673.60,921.33 L675.10,921.56 L676.60,921.78 L678.10,921.99 L679.60,922.19 L681.10,922.40 L682.60,922.59 L684.10,922.78 L685.60,922.96 L687.10,923.14 L688.60,923.31 L690.10,923.47 L691.60,923.63 L693.10,923.79 L694.60,923.94 L696.10,924.08 L697.60,924.21 L699.10,924.35 L700.60,924.47 L702.10,924.59 L703.60,924.71 L705.10,924.82 L706.60,924.92 L708.10,925.02 L709.60,925.12 L711.10,925.21 L712.60,925.29 L714.10,925.37 L715.60,925.44 L717.10,925.51 L718.60,925.58 L720.10,925.64 L721.60,925.69 L723.10,925.74 L724.60,925.79 L726.10,925.83 L727.60,925.86 L729.10,925.90 L730.60,925.92 L732.10,925.94 L733.60,925.96 L735.10,925.98 L736.60,925.99 L738.10,925.99 L739.60,925.99 L741.10,925.99 L742.60,925.98 L744.10,925.97 L745.60,925.95 L747.10,925.93 L748.60,925.91 L750.10,925.88 L751.60,925.84 L753.10,925.81 L754.60,925.77 L756.10,925.72 L757.60,925.68 L759.10,925.62 L760.60,925.57 L762.10,925.51 L763.60,925.45 L765.10,925.38 L766.60,925.31 L768.10,925.24 L769.60,925.16 L771.10,925.08 L772.60,924.99 L774.10,924.91 L775.60,924.82 L777.10,924.72 L778.60,924.62 L780.10,924.52 L781.60,924.42 L783.10,924.31 L784.60,924.20 L786.10,924.09 L787.60,923.97 L789.10,923.85 L790.60,923.73 L792.10,923.60 L793.60,923.47 L795.10,923.34 L796.60,923.21 L798.10,923.07 L799.60,922.93 L801.10,922.79 L802.60,922.64 L804.10,922.49 L805.60,922.34 L807.10,922.19 L808.60,922.03 L810.10,921.87 L811.60,921.71 L813.10,921.54 L814.60,921.38 L816.10,921.21 L817.60,921.03 L819.10,920.86 L820.60,920.68 L822.10,920.50 L823.60,920.32 L825.10,920.14 L826.60,919.95 L828.10,919.76 L829.60,919.57 L831.10,919.38 L832.60,919.19 L834.10,918.99 L835.60,918.79 L837.10,918.59 L838.60,918.39 L840.10,918.18 L841.60,917.97 L843.10,917.76 L844.60,917.55 L846.10,917.34 L847.60,917.12 L849.10,916.91 L850.60,916.69 L852.10,916.47 L853.60,916.24 L855.10,916.02 L856.60,915.79 L858.10,915.57 L859.60,915.34 L861.10,915.11 L862.60,914.87 L864.10,914.64 L865.60,914.40 L867.10,914.17 L868.60,913.93 L870.10,913.69 L871.60,913.45 L873.10,913.20 L874.60,912.96 L876.10,912.71 L877.60,912.47 L879.10,912.22 L880.60,911.96 L882.10,911.71 L883.60,911.45 L885.10,911.19 L886.60,910.93 L888.10,910.67 L889.60,910.41 L891.10,910.14 L892.60,909.88 L894.10,909.61 L895.60,909.34 L897.10,909.07 L898.60,908.80 L900.10,908.53 L901.60,908.26 L903.10,907.98 L904.60,907.71 L906.10,907.43 L907.60,907.16 L909.10,906.88 L910.60,906.60 L912.10,906.32 L913.60,906.04 L915.10,905.76 L916.60,905.48 L918.10,905.20 L919.60,904.91 L921.10,904.63 L922.60,904.35 L924.10,904.06 L925.60,903.78 L927.10,903.49 L928.60,903.20 L930.10,902.91 L931.60,902.63 L933.10,902.34 L934.60,902.05 L936.10,901.76 L937.60,901.47 L939.10,901.18 L940.60,900.89 L942.10,900.60 L943.60,900.31 L945.10,900.02 L946.60,899.72 L948.10,899.43 L949.60,899.14 L951.10,898.85 L952.60,898.55 L954.10,898.26 L955.60,897.97 L957.10,897.67 L958.60,897.38 L960.10,897.09 L961.60,896.80 L963.10,896.51 L964.60,896.22 L966.10,895.93 L967.60,895.64 L969.10,895.35 L970.60,895.06 L972.10,894.77 L973.60,894.48 L975.10,894.19 L976.60,893.90 L978.10,893.62 L979.60,893.33 L981.10,893.04 L982.60,892.75 L984.10,892.46 L985.60,892.17 L987.10,891.88 L988.60,891.59 L990.10,891.30 L991.60,891.01 L993.10,890.72 L994.60,890.43 L996.10,890.14 L997.60,889.85 L999.10,889.56 L1000.60,889.27 L1002.10,888.98 L1003.60,888.69 L1005.10,888.40 L1006.60,888.11 L1008.10,887.83 L1009.60,887.54 L1011.10,887.25 L1012.60,886.96 L1014.10,886.67 L1015.60,886.39 L1017.10,886.10 L1018.60,885.81 L1020.10,885.52 L1021.60,885.24 L1023.10,884.95 L1024.60,884.67 L1026.10,884.38 L1027.60,884.09 L1029.10,883.81 L1030.60,883.52 L1032.10,883.24 L1033.60,882.95 L1035.10,882.67 L1036.60,882.39 L1038.10,882.10 L1039.60,881.82 L1041.10,881.54 L1042.60,881.26 L1044.10,880.97 L1045.60,880.69 L1047.10,880.41 L1048.60,880.13 L1050.10,879.85 L1051.60,879.57 L1053.10,879.29 L1054.60,879.01 L1056.10,878.73 L1057.60,878.45 L1059.10,878.17 L1060.60,877.90 L1062.10,877.62 L1063.60,877.34 L1065.10,877.07 L1066.60,876.79 L1068.10,876.52 L1069.60,876.24 L1071.10,875.97 L1072.60,875.69 L1074.10,875.42 L1075.60,875.15 L1077.10,874.87 L1078.60,874.60 L1080.10,874.33 L1081.60,874.06 L1083.10,873.79 L1084.60,873.52 L1086.10,873.25 L1087.60,872.98 L1089.10,872.71 L1090.60,872.44 L1092.10,872.18 L1093.60,871.91 L1095.10,871.65 L1096.60,871.38 L1098.10,871.11 L1099.60,870.85 L1101.10,870.59 L1102.60,870.32 L1104.10,870.06 L1105.60,869.80 L1107.10,869.54 L1108.60,869.28 L1110.10,869.02 L1111.60,868.76 L1113.10,868.50 L1114.60,868.24 L1116.10,867.98 L1117.60,867.72 L1119.10,867.47 L1120.60,867.21 L1122.10,866.95 L1123.60,866.70 L1125.10,866.45 L1126.60,866.19 L1128.10,865.94 L1129.60,865.69 L1131.10,865.43 L1132.60,865.18 L1134.10,864.93 L1135.60,864.68 L1137.10,864.43 L1138.60,864.19 L1140.10,863.94 L1141.60,863.69 L1143.10,863.44 L1144.60,863.20 L1146.10,862.95 L1147.60,862.71 L1149.10,862.46 L1150.60,862.22 L1152.10,861.98 L1153.60,861.74 L1155.10,861.49 L1156.60,861.25 L1158.10,861.01 L1159.60,860.77 L1161.10,860.54 L1162.60,860.30 L1164.10,860.06 L1165.60,859.82 L1167.10,859.59 L1168.60,859.35 L1170.10,859.12 L1171.60,858.88 L1173.10,858.65 L1174.60,858.42 L1176.10,858.18 L1177.60,857.95 L1179.10,857.72 L1180.60,857.49 L1182.10,857.26 L1183.60,857.03 L1185.10,856.81 L1186.60,856.58 L1188.10,856.35 L1189.60,856.13 L1191.10,855.90 L1192.60,855.68 L1194.10,855.45 L1195.60,855.23 L1197.10,855.01 L1198.60,854.79 L1200.10,854.56 L1201.60,854.34 L1203.10,854.12 L1204.60,853.91 L1206.10,853.69 L1207.60,853.47 L1209.10,853.25 L1210.60,853.04 L1212.10,852.82 L1213.60,852.60 L1215.10,852.39 L1216.60,852.18 L1218.10,851.96 L1219.60,851.75 L1221.10,851.54 L1222.60,851.33 L1224.10,851.12 L1225.60,850.91 L1227.10,850.70 L1228.60,850.49 L1230.10,850.28 L1231.60,850.08 L1233.10,849.87 L1234.60,849.66 L1236.10,849.46 L1237.60,849.25 L1239.10,849.05 L1240.60,848.85 L1242.10,848.65 L1243.60,848.44 L1245.10,848.24 L1246.60,848.04 L1248.10,847.84 L1249.60,847.64 L1251.10,847.45 L1252.60,847.25 L1254.10,847.05 L1255.60,846.85 L1257.10,846.66 L1258.60,846.46 L1260.10,846.27 L1261.60,846.08 L1263.10,845.88 L1264.60,845.69 L1266.10,845.50 L1267.60,845.31 L1269.10,845.12 L1270.60,844.93 L1272.10,844.74 L1273.60,844.55 L1275.10,844.36 L1276.60,844.17 L1278.10,843.99 L1279.60,843.80 L1281.10,843.61 L1282.60,843.43 L1284.10,843.25 L1285.60,843.06 L1287.10,842.88 L1288.60,842.70 L1290.10,842.51 L1291.60,842.33 L1293.10,842.15 L1294.60,841.97 L1296.10,841.79 L1297.60,841.62 L1299.10,841.44 L1300.60,841.26 L1302.10,841.08 L1303.60,840.91 L1305.10,840.73 L1306.60,840.56 L1308.10,840.38 L1309.60,840.21 L1311.10,840.04 L1312.60,839.86 L1314.10,839.69 L1315.60,839.52 L1317.10,839.35 L1318.60,839.18 L1320.10,839.01 L1321.60,838.84 L1323.10,838.67 L1324.60,838.50 L1326.10,838.34 L1327.60,838.17 L1329.10,838.00 L1330.60,837.84 L1332.10,837.67 L1333.60,837.51 L1335.10,837.35 L1336.60,837.18 L1338.10,837.02 L1339.60,836.86 L1341.10,836.70 L1342.60,836.54 L1344.10,836.37 L1345.60,836.22 L1347.10,836.06 L1348.60,835.90 L1350.10,835.74 L1351.60,835.58 L1353.10,835.42 L1354.60,835.27 L1356.10,835.11 L1357.60,834.96 L1359.10,834.80 L1360.60,834.65 L1362.10,834.49 L1363.60,834.34 L1365.10,834.19 L1366.60,834.04 L1368.10,833.88 L1369.60,833.73 L1371.10,833.58 L1372.60,833.43 L1374.10,833.28 L1375.60,833.13 L1377.10,832.99 L1378.60,832.84 L1380.10,832.69 L1381.60,832.54 L1383.10,832.40 L1384.60,832.25 L1386.10,832.11 L1387.60,831.96 L1389.10,831.82 L1390.60,831.67 L1392.10,831.53 L1393.60,831.39 L1395.10,831.24 L1396.60,831.10 L1398.10,830.96 L1399.60,830.82 L1401.10,830.68 L1402.60,830.54 L1404.10,830.40 L1405.60,830.26 L1407.10,830.12 L1408.60,829.99 L1410.10,829.85 L1411.60,829.71 L1413.10,829.58 L1414.60,829.44 L1416.10,829.30 L1417.60,829.17 L1419.10,829.04 L1420.60,828.90 L1422.10,828.77 L1423.60,828.63 L1425.10,828.50 L1426.60,828.37 L1428.10,828.24 L1429.60,828.11 L1431.10,827.98 L1432.60,827.85 L1434.10,827.72 L1435.60,827.59 L1437.10,827.46 L1438.60,827.33 L1440.10,827.20 L1441.60,827.07 L1443.10,826.95 L1444.60,826.82 L1446.10,826.69 L1447.60,826.57 L1449.10,826.44 L1450.60,826.32 L1452.10,826.19 L1453.60,826.07 L1455.10,825.94 L1456.60,825.82 L1458.10,825.70 L1459.60,825.58 L1461.10,825.45 L1462.60,825.33 L1464.10,825.21 L1465.60,825.09 L1467.10,824.97 L1468.60,824.85 L1470.10,824.73 L1471.60,824.61 L1473.10,824.49 L1474.60,824.38 L1476.10,824.26 L1477.60,824.14 L1479.10,824.02 L1480.60,823.91 L1482.10,823.79 L1483.60,823.68 L1485.10,823.56 L1486.60,823.45 L1488.10,823.33 L1489.60,823.22 L1491.10,823.10 L1492.60,822.99 L1494.10,822.88 L1495.60,822.76 L1497.10,822.65 L1498.60,822.54 L1500.10,822.43 L1501.60,822.32 L1503.10,822.21 L1504.60,822.10 L1506.10,821.99 L1507.60,821.88 L1509.10,821.77 L1510.60,821.66 L1512.10,821.55 L1513.60,821.44 L1515.10,821.34 L1516.60,821.23 L1518.10,821.12 L1519.60,821.01 L1521.10,820.91 L1522.60,820.80 L1524.10,820.70 L1525.60,820.59 L1527.10,820.49 L1528.60,820.38 L1530.10,820.28 L1531.60,820.18 L1533.10,820.07 L1534.60,819.97 L1536.10,819.87 L1537.60,819.76 L1539.10,819.66 L1540.60,819.56 L1542.10,819.46 L1543.60,819.36 L1545.10,819.26 L1546.60,819.16 L1548.10,819.06 L1549.60,818.96 L1551.10,818.86 L1552.60,818.76 L1554.10,818.66 L1555.60,818.57 L1557.10,818.47 L1558.60,818.37 L1560.10,818.27 L1561.60,818.18 L1563.10,818.08 L1564.60,817.98 L1566.10,817.89 L1567.60,817.79 L1569.10,817.70 L1570.60,817.60 L1572.10,817.51 L1573.60,817.41 L1575.10,817.32 L1576.60,817.23 L1578.10,817.13 L1579.60,817.04 L1581.10,816.95 L1582.60,816.86 L1584.10,816.76 L1585.60,816.67 L1587.10,816.58 L1588.60,816.49 L1590.10,816.40 L1591.60,816.31 L1593.10,816.22 L1594.60,816.13 L1596.10,816.04 L1597.60,815.95 L1599.10,815.86 L1600.00,815.81" stroke="#000" stroke-width="6" stroke-dasharray="2.3 8.350" stroke-dashoffset="0.35"/>
<path d="M310.80,-19.72 L311.05,-18.08 L311.30,-16.45 L311.55,-14.82 L311.80,-13.20 L312.05,-11.58 L312.30,-9.96 L312.55,-8.34 L312.80,-6.72 L313.05,-5.11 L313.30,-3.50 L313.55,-1.89 L313.80,-0.29 L314.05,1.31 L314.30,2.91 L314.55,4.51 L314.80,6.10 L315.05,7.70 L315.30,9.29 L315.55,10.87 L315.80,12.46 L316.05,14.04 L316.30,15.62 L316.55,17.19 L316.80,18.77 L317.05,20.34 L317.30,21.91 L317.55,23.48 L317.80,25.04 L318.05,26.60 L318.30,28.16 L318.55,29.72 L318.80,31.27 L319.05,32.82 L319.30,34.37 L319.55,35.92 L319.80,37.46 L320.05,39.01 L320.30,40.55 L320.55,42.08 L320.80,43.62 L321.05,45.15 L321.30,46.68 L321.55,48.21 L321.80,49.73 L322.05,51.25 L322.30,52.77 L322.55,54.29 L322.80,55.81 L323.05,57.32 L323.30,58.83 L323.55,60.34 L323.80,61.84 L324.05,63.35 L324.30,64.85 L324.55,66.34 L324.80,67.84 L325.05,69.33 L325.30,70.83 L325.55,72.31 L325.80,73.80 L326.05,75.29 L326.30,76.77 L326.55,78.25 L326.85,80.02 L327.15,81.79 L327.45,83.55 L327.75,85.31 L328.05,87.07 L328.35,88.83 L328.65,90.58 L328.95,92.33 L329.25,94.08 L329.55,95.82 L329.85,97.56 L330.15,99.29 L330.45,101.02 L330.75,102.75 L331.05,104.48 L331.35,106.20 L331.65,107.92 L331.95,109.64 L332.25,111.35 L332.55,113.06 L332.85,114.76 L333.15,116.47 L333.45,118.17 L333.75,119.86 L334.05,121.55 L334.35,123.24 L334.65,124.93 L334.95,126.61 L335.25,128.30 L335.55,129.97 L335.85,131.65 L336.15,133.32 L336.45,134.98 L336.75,136.65 L337.05,138.31 L337.35,139.97 L337.65,141.62 L337.95,143.28 L338.25,144.92 L338.55,146.57 L338.85,148.21 L339.15,149.85 L339.45,151.49 L339.75,153.12 L340.05,154.75 L340.35,156.38 L340.65,158.00 L340.95,159.62 L341.25,161.24 L341.55,162.86 L341.85,164.47 L342.15,166.08 L342.45,167.68 L342.75,169.28 L343.05,170.88 L343.35,172.48 L343.65,174.07 L343.95,175.66 L344.25,177.25 L344.55,178.84 L344.85,180.42 L345.15,182.00 L345.45,183.57 L345.75,185.14 L346.05,186.71 L346.35,188.28 L346.65,189.84 L346.95,191.41 L347.25,192.96 L347.55,194.52 L347.85,196.07 L348.15,197.62 L348.45,199.16 L348.75,200.71 L349.05,202.25 L349.35,203.79 L349.65,205.32 L349.95,206.85 L350.25,208.38 L350.55,209.91 L350.85,211.43 L351.15,212.95 L351.45,214.47 L351.75,215.98 L352.05,217.49 L352.35,219.00 L352.65,220.51 L352.95,222.01 L353.25,223.51 L353.55,225.01 L353.85,226.50 L354.15,227.99 L354.45,229.48 L354.75,230.97 L355.05,232.45 L355.35,233.93 L355.65,235.41 L355.95,236.89 L356.25,238.36 L356.60,240.07 L356.95,241.78 L357.30,243.49 L357.65,245.19 L358.00,246.89 L358.35,248.59 L358.70,250.28 L359.05,251.96 L359.40,253.65 L359.75,255.33 L360.10,257.01 L360.45,258.68 L360.80,260.35 L361.15,262.02 L361.50,263.68 L361.85,265.34 L362.20,266.99 L362.55,268.64 L362.90,270.29 L363.25,271.93 L363.60,273.57 L363.95,275.21 L364.30,276.84 L364.65,278.47 L365.00,280.10 L365.35,281.72 L365.70,283.34 L366.05,284.96 L366.40,286.57 L366.75,288.18 L367.10,289.78 L367.45,291.39 L367.80,292.98 L368.15,294.58 L368.50,296.17 L368.85,297.76 L369.20,299.34 L369.55,300.92 L369.90,302.50 L370.25,304.07 L370.60,305.64 L370.95,307.21 L371.30,308.77 L371.65,310.33 L372.00,311.89 L372.35,313.44 L372.70,314.99 L373.05,316.54 L373.40,318.08 L373.75,319.62 L374.10,321.16 L374.45,322.69 L374.80,324.22 L375.15,325.75 L375.50,327.27 L375.85,328.79 L376.20,330.30 L376.55,331.82 L376.90,333.33 L377.25,334.83 L377.60,336.34 L377.95,337.84 L378.30,339.33 L378.65,340.83 L379.00,342.32 L379.35,343.80 L379.70,345.29 L380.05,346.77 L380.40,348.24 L380.75,349.72 L381.10,351.19 L381.45,352.66 L381.80,354.12 L382.15,355.58 L382.55,357.25 L382.95,358.91 L383.35,360.57 L383.75,362.22 L384.15,363.87 L384.55,365.51 L384.95,367.16 L385.35,368.79 L385.75,370.43 L386.15,372.05 L386.55,373.68 L386.95,375.30 L387.35,376.92 L387.75,378.53 L388.15,380.14 L388.55,381.74 L388.95,383.34 L389.35,384.94 L389.75,386.53 L390.15,388.12 L390.55,389.71 L390.95,391.29 L391.35,392.86 L391.75,394.44 L392.15,396.01 L392.55,397.57 L392.95,399.13 L393.35,400.69 L393.75,402.24 L394.15,403.79 L394.55,405.34 L394.95,406.88 L395.35,408.42 L395.75,409.95 L396.15,411.48 L396.55,413.01 L396.95,414.53 L397.35,416.05 L397.75,417.57 L398.15,419.08 L398.55,420.59 L398.95,422.09 L399.35,423.59 L399.75,425.09 L400.15,426.58 L400.55,428.07 L400.95,429.55 L401.35,431.04 L401.75,432.51 L402.15,433.99 L402.55,435.46 L402.95,436.92 L403.35,438.39 L403.75,439.85 L404.15,441.30 L404.55,442.76 L404.95,444.20 L405.40,445.83 L405.85,447.45 L406.30,449.07 L406.75,450.68 L407.20,452.29 L407.65,453.89 L408.10,455.49 L408.55,457.08 L409.00,458.67 L409.45,460.26 L409.90,461.84 L410.35,463.41 L410.80,464.98 L411.25,466.55 L411.70,468.11 L412.15,469.67 L412.60,471.23 L413.05,472.77 L413.50,474.32 L413.95,475.86 L414.40,477.40 L414.85,478.93 L415.30,480.46 L415.75,481.98 L416.20,483.50 L416.65,485.02 L417.10,486.53 L417.55,488.03 L418.00,489.54 L418.45,491.03 L418.90,492.53 L419.35,494.02 L419.80,495.50 L420.25,496.98 L420.70,498.46 L421.15,499.93 L421.60,501.40 L422.05,502.87 L422.50,504.33 L422.95,505.78 L423.40,507.24 L423.85,508.69 L424.30,510.13 L424.75,511.57 L425.20,513.01 L425.65,514.44 L426.15,516.02 L426.65,517.61 L427.15,519.18 L427.65,520.75 L428.15,522.32 L428.65,523.88 L429.15,525.44 L429.65,526.99 L430.15,528.54 L430.65,530.08 L431.15,531.62 L431.65,533.15 L432.15,534.68 L432.65,536.20 L433.15,537.72 L433.65,539.23 L434.15,540.74 L434.65,542.24 L435.15,543.74 L435.65,545.24 L436.15,546.73 L436.65,548.21 L437.15,549.69 L437.65,551.17 L438.15,552.64 L438.65,554.11 L439.15,555.57 L439.65,557.02 L440.15,558.48 L440.65,559.93 L441.15,561.37 L441.65,562.81 L442.15,564.24 L442.65,565.67 L443.15,567.10 L443.65,568.52 L444.15,569.93 L444.70,571.49 L445.25,573.03 L445.80,574.58 L446.35,576.11 L446.90,577.64 L447.45,579.17 L448.00,580.69 L448.55,582.21 L449.10,583.72 L449.65,585.22 L450.20,586.72 L450.75,588.21 L451.30,589.70 L451.85,591.19 L452.40,592.67 L452.95,594.14 L453.50,595.61 L454.05,597.07 L454.60,598.53 L455.15,599.98 L455.70,601.43 L456.25,602.87 L456.80,604.31 L457.35,605.74 L457.90,607.17 L458.45,608.59 L459.00,610.01 L459.55,611.42 L460.10,612.83 L460.65,614.23 L461.20,615.63 L461.80,617.15 L462.40,618.66 L463.00,620.17 L463.60,621.67 L464.20,623.17 L464.80,624.66 L465.40,626.14 L466.00,627.62 L466.60,629.10 L467.20,630.56 L467.80,632.03 L468.40,633.48 L469.00,634.93 L469.60,636.38 L470.20,637.82 L470.80,639.25 L471.40,640.68 L472.00,642.10 L472.60,643.52 L473.20,644.93 L473.80,646.34 L474.40,647.74 L475.00,649.13 L475.60,650.52 L476.20,651.91 L476.80,653.28 L477.45,654.77 L478.10,656.25 L478.75,657.73 L479.40,659.20 L480.05,660.66 L480.70,662.12 L481.35,663.57 L482.00,665.01 L482.65,666.45 L483.30,667.88 L483.95,669.31 L484.60,670.73 L485.25,672.14 L485.90,673.55 L486.55,674.95 L487.20,676.35 L487.85,677.74 L488.50,679.12 L489.15,680.50 L489.80,681.87 L490.45,683.24 L491.10,684.60 L491.75,685.95 L492.45,687.41 L493.15,688.85 L493.85,690.29 L494.55,691.72 L495.25,693.15 L495.95,694.57 L496.65,695.98 L497.35,697.39 L498.05,698.79 L498.75,700.18 L499.45,701.56 L500.15,702.94 L500.85,704.32 L501.55,705.68 L502.25,707.04 L502.95,708.40 L503.65,709.75 L504.35,711.09 L505.05,712.42 L505.75,713.75 L506.50,715.17 L507.25,716.58 L508.00,717.98 L508.75,719.38 L509.50,720.76 L510.25,722.15 L511.00,723.52 L511.75,724.89 L512.50,726.25 L513.25,727.60 L514.00,728.95 L514.75,730.29 L515.50,731.62 L516.25,732.94 L517.00,734.26 L517.75,735.58 L518.50,736.88 L519.30,738.27 L520.10,739.64 L520.90,741.01 L521.70,742.38 L522.50,743.73 L523.30,745.08 L524.10,746.42 L524.90,747.75 L525.70,749.08 L526.50,750.39 L527.30,751.70 L528.10,753.01 L528.90,754.30 L529.70,755.59 L530.50,756.87 L531.30,758.15 L532.15,759.49 L533.00,760.83 L533.85,762.16 L534.70,763.48 L535.55,764.80 L536.40,766.10 L537.25,767.40 L538.10,768.69 L538.95,769.97 L539.80,771.25 L540.65,772.51 L541.50,773.77 L542.35,775.02 L543.20,776.27 L544.05,777.50 L544.95,778.81 L545.85,780.10 L546.75,781.38 L547.65,782.66 L548.55,783.92 L549.45,785.18 L550.35,786.43 L551.25,787.68 L552.15,788.91 L553.05,790.14 L553.95,791.35 L554.85,792.56 L555.75,793.77 L556.70,795.03 L557.65,796.28 L558.60,797.52 L559.55,798.75 L560.50,799.98 L561.45,801.19 L562.40,802.40 L563.35,803.60 L564.30,804.79 L565.25,805.97 L566.20,807.14 L567.15,808.31 L568.15,809.53 L569.15,810.73 L570.15,811.93 L571.15,813.12 L572.15,814.30 L573.15,815.47 L574.15,816.63 L575.15,817.79 L576.15,818.93 L577.15,820.07 L578.15,821.19 L579.20,822.37 L580.25,823.53 L581.30,824.68 L582.35,825.83 L583.40,826.96 L584.45,828.09 L585.50,829.20 L586.55,830.31 L587.60,831.41 L588.65,832.49 L589.70,833.57 L590.80,834.69 L591.90,835.80 L593.00,836.90 L594.10,837.99 L595.20,839.08 L596.30,840.15 L597.40,841.21 L598.50,842.26 L599.60,843.30 L600.70,844.33 L601.80,845.35 L602.95,846.41 L604.10,847.46 L605.25,848.50 L606.40,849.53 L607.55,850.55 L608.70,851.56 L609.85,852.55 L611.00,853.54 L612.15,854.52 L613.30,855.49 L614.50,856.49 L615.70,857.48 L616.90,858.46 L618.10,859.43 L619.30,860.39 L620.50,861.34 L621.70,862.27 L622.90,863.20 L624.10,864.12 L625.30,865.03 L626.55,865.96 L627.80,866.89 L629.05,867.80 L630.30,868.70 L631.55,869.60 L632.80,870.48 L634.05,871.35 L635.30,872.21 L636.55,873.06 L637.80,873.90 L639.05,874.73 L640.35,875.59 L641.65,876.43 L642.95,877.26 L644.25,878.08 L645.55,878.89 L646.85,879.69 L648.15,880.48 L649.45,881.26 L650.75,882.03 L652.05,882.79 L653.35,883.54 L654.70,884.30 L656.05,885.06 L657.40,885.80 L658.75,886.54 L660.10,887.26 L661.45,887.97 L662.80,888.68 L664.15,889.37 L665.50,890.05 L666.85,890.72 L668.20,891.39 L669.60,892.06 L671.00,892.73 L672.40,893.38 L673.80,894.03 L675.20,894.66 L676.60,895.28 L678.00,895.90 L679.40,896.50 L680.80,897.09 L682.20,897.67 L683.60,898.25 L685.00,898.81 L686.40,899.36 L687.80,899.90 L689.25,900.46 L690.70,901.00 L692.15,901.53 L693.60,902.05 L695.05,902.56 L696.50,903.07 L697.95,903.56 L699.40,904.04 L700.85,904.51 L702.30,904.98 L703.75,905.43 L705.20,905.87 L706.65,906.31 L708.10,906.73 L709.55,907.15 L711.00,907.56 L712.45,907.95 L713.90,908.34 L715.40,908.74 L716.90,909.12 L718.40,909.49 L719.90,909.86 L721.40,910.22 L722.90,910.56 L724.40,910.90 L725.90,911.23 L727.40,911.55 L728.90,911.86 L730.40,912.17 L731.90,912.46 L733.40,912.75 L734.90,913.02 L736.40,913.29 L737.90,913.55 L739.40,913.81 L740.90,914.05 L742.40,914.29 L743.90,914.52 L745.40,914.74 L746.90,914.95 L748.40,915.16 L749.90,915.35 L751.40,915.54 L752.90,915.73 L754.40,915.90 L755.90,916.07 L757.40,916.23 L758.90,916.39 L760.40,916.53 L761.90,916.67 L763.40,916.81 L764.90,916.93 L766.40,917.05 L767.90,917.16 L769.40,917.27 L770.90,917.37 L772.40,917.46 L773.90,917.55 L775.40,917.63 L776.90,917.70 L778.40,917.77 L779.90,917.83 L781.40,917.89 L782.90,917.94 L784.40,917.98 L785.90,918.02 L787.40,918.05 L788.90,918.08 L790.40,918.10 L791.90,918.11 L793.40,918.12 L794.90,918.13 L796.40,918.12 L797.90,918.12 L799.40,918.10 L800.90,918.09 L802.40,918.06 L803.90,918.04 L805.40,918.00 L806.90,917.97 L808.40,917.92 L809.90,917.88 L811.40,917.83 L812.90,917.77 L814.40,917.71 L815.90,917.64 L817.40,917.57 L818.90,917.50 L820.40,917.42 L821.90,917.33 L823.40,917.24 L824.90,917.15 L826.40,917.06 L827.90,916.96 L829.40,916.85 L830.90,916.74 L832.40,916.63 L833.90,916.51 L835.40,916.39 L836.90,916.27 L838.40,916.14 L839.90,916.01 L841.40,915.87 L842.90,915.73 L844.40,915.59 L845.90,915.45 L847.40,915.30 L848.90,915.14 L850.40,914.99 L851.90,914.83 L853.40,914.67 L854.90,914.50 L856.40,914.33 L857.90,914.16 L859.40,913.98 L860.90,913.81 L862.40,913.62 L863.90,913.44 L865.40,913.25 L866.90,913.06 L868.40,912.87 L869.90,912.68 L871.40,912.48 L872.90,912.28 L874.40,912.08 L875.90,911.87 L877.40,911.66 L878.90,911.45 L880.40,911.24 L881.90,911.04 L883.40,910.83 L884.90,910.61 L886.40,910.40 L887.90,910.18 L889.40,909.95 L890.90,909.72 L892.40,909.49 L893.90,909.26 L895.40,909.02 L896.90,908.78 L898.40,908.54 L899.90,908.30 L901.40,908.05 L902.90,907.80 L904.40,907.54 L905.90,907.29 L907.40,907.03 L908.90,906.77 L910.40,906.51 L911.90,906.25 L913.40,905.98 L914.90,905.71 L916.40,905.44 L917.90,905.17 L919.40,904.90 L920.90,904.63 L922.40,904.35 L923.90,904.07 L925.40,903.79 L926.90,903.51 L928.40,903.23 L929.90,902.95 L931.40,902.67 L932.90,902.38 L934.40,902.10 L935.90,901.81 L937.40,901.52 L938.90,901.23 L940.40,900.94 L941.90,900.65 L943.40,900.36 L944.90,900.07 L946.40,899.78 L947.90,899.48 L949.40,899.19 L950.90,898.90 L952.40,898.60 L953.90,898.31 L955.40,898.01 L956.90,897.72 L958.40,897.42 L959.90,897.12 L961.40,896.84 L962.90,896.55 L964.40,896.26 L965.90,895.97 L967.40,895.68 L968.90,895.39 L970.40,895.10 L971.90,894.81 L973.40,894.52 L974.90,894.23 L976.40,893.94 L977.90,893.65 L979.40,893.36 L980.90,893.07 L982.40,892.78 L983.90,892.49 L985.40,892.20 L986.90,891.91 L988.40,891.62 L989.90,891.34 L991.40,891.05 L992.90,890.76 L994.40,890.47 L995.90,890.18 L997.40,889.89 L998.90,889.60 L1000.40,889.31 L1001.90,889.02 L1003.40,888.73 L1004.90,888.44 L1006.40,888.15 L1007.90,887.86 L1009.40,887.58 L1010.90,887.29 L1012.40,887.00 L1013.90,886.71 L1015.40,886.42 L1016.90,886.14 L1018.40,885.85 L1019.90,885.56 L1021.40,885.28 L1022.90,884.99 L1024.40,884.70 L1025.90,884.42 L1027.40,884.13 L1028.90,883.85 L1030.40,883.56 L1031.90,883.28 L1033.40,882.99 L1034.90,882.71 L1036.40,882.42 L1037.90,882.14 L1039.40,881.86 L1040.90,881.58 L1042.40,881.29 L1043.90,881.01 L1045.40,880.73 L1046.90,880.45 L1048.40,880.17 L1049.90,879.89 L1051.40,879.61 L1052.90,879.33 L1054.40,879.05 L1055.90,878.77 L1057.40,878.49 L1058.90,878.21 L1060.40,877.93 L1061.90,877.66 L1063.40,877.38 L1064.90,877.10 L1066.40,876.83 L1067.90,876.55 L1069.40,876.28 L1070.90,876.00 L1072.40,875.73 L1073.90,875.46 L1075.40,875.18 L1076.90,874.91 L1078.40,874.64 L1079.90,874.37 L1081.40,874.10 L1082.90,873.82 L1084.40,873.56 L1085.90,873.29 L1087.40,873.02 L1088.90,872.75 L1090.40,872.48 L1091.90,872.21 L1093.40,871.95 L1094.90,871.68 L1096.40,871.41 L1097.90,871.15 L1099.40,870.89 L1100.90,870.62 L1102.40,870.36 L1103.90,870.10 L1105.40,869.83 L1106.90,869.57 L1108.40,869.31 L1109.90,869.05 L1111.40,868.79 L1112.90,868.53 L1114.40,868.27 L1115.90,868.01 L1117.40,867.76 L1118.90,867.50 L1120.40,867.24 L1121.90,866.99 L1123.40,866.73 L1124.90,866.48 L1126.40,866.23 L1127.90,865.97 L1129.40,865.72 L1130.90,865.47 L1132.40,865.22 L1133.90,864.97 L1135.40,864.72 L1136.90,864.47 L1138.40,864.22 L1139.90,863.97 L1141.40,863.72 L1142.90,863.48 L1144.40,863.23 L1145.90,862.99 L1147.40,862.74 L1148.90,862.50 L1150.40,862.25 L1151.90,862.01 L1153.40,861.77 L1154.90,861.53 L1156.40,861.29 L1157.90,861.05 L1159.40,860.81 L1160.90,860.57 L1162.40,860.33 L1163.90,860.09 L1165.40,859.85 L1166.90,859.62 L1168.40,859.38 L1169.90,859.15 L1171.40,858.91 L1172.90,858.68 L1174.40,858.45 L1175.90,858.22 L1177.40,857.98 L1178.90,857.75 L1180.40,857.52 L1181.90,857.29 L1183.40,857.07 L1184.90,856.84 L1186.40,856.61 L1187.90,856.38 L1189.40,856.16 L1190.90,855.93 L1192.40,855.71 L1193.90,855.48 L1195.40,855.26 L1196.90,855.04 L1198.40,854.82 L1199.90,854.59 L1201.40,854.37 L1202.90,854.15 L1204.40,853.93 L1205.90,853.72 L1207.40,853.50 L1208.90,853.28 L1210.40,853.06 L1211.90,852.85 L1213.40,852.63 L1214.90,852.42 L1216.40,852.20 L1217.90,851.99 L1219.40,851.78 L1220.90,851.57 L1222.40,851.36 L1223.90,851.15 L1225.40,850.94 L1226.90,850.73 L1228.40,850.52 L1229.90,850.31 L1231.40,850.10 L1232.90,849.90 L1234.40,849.69 L1235.90,849.49 L1237.40,849.28 L1238.90,849.08 L1240.40,848.88 L1241.90,848.67 L1243.40,848.47 L1244.90,848.27 L1246.40,848.07 L1247.90,847.87 L1249.40,847.67 L1250.90,847.47 L1252.40,847.27 L1253.90,847.08 L1255.40,846.88 L1256.90,846.68 L1258.40,846.49 L1259.90,846.29 L1261.40,846.10 L1262.90,845.91 L1264.40,845.72 L1265.90,845.52 L1267.40,845.33 L1268.90,845.14 L1270.40,844.95 L1271.90,844.76 L1273.40,844.57 L1274.90,844.39 L1276.40,844.20 L1277.90,844.01 L1279.40,843.82 L1280.90,843.64 L1282.40,843.45 L1283.90,843.27 L1285.40,843.09 L1286.90,842.90 L1288.40,842.72 L1289.90,842.54 L1291.40,842.36 L1292.90,842.18 L1294.40,842.00 L1295.90,841.82 L1297.40,841.64 L1298.90,841.46 L1300.40,841.28 L1301.90,841.11 L1303.40,840.93 L1304.90,840.76 L1306.40,840.58 L1307.90,840.41 L1309.40,840.23 L1310.90,840.06 L1312.40,839.89 L1313.90,839.71 L1315.40,839.54 L1316.90,839.37 L1318.40,839.20 L1319.90,839.03 L1321.40,838.86 L1322.90,838.69 L1324.40,838.53 L1325.90,838.36 L1327.40,838.19 L1328.90,838.03 L1330.40,837.86 L1331.90,837.70 L1333.40,837.53 L1334.90,837.37 L1336.40,837.20 L1337.90,837.04 L1339.40,836.88 L1340.90,836.72 L1342.40,836.56 L1343.90,836.40 L1345.40,836.24 L1346.90,836.08 L1348.40,835.92 L1349.90,835.76 L1351.40,835.60 L1352.90,835.45 L1354.40,835.29 L1355.90,835.13 L1357.40,834.98 L1358.90,834.82 L1360.40,834.67 L1361.90,834.51 L1363.40,834.36 L1364.90,834.21 L1366.40,834.06 L1367.90,833.90 L1369.40,833.75 L1370.90,833.60 L1372.40,833.45 L1373.90,833.30 L1375.40,833.15 L1376.90,833.01 L1378.40,832.86 L1379.90,832.71 L1381.40,832.56 L1382.90,832.42 L1384.40,832.27 L1385.90,832.13 L1387.40,831.98 L1388.90,831.84 L1390.40,831.69 L1391.90,831.55 L1393.40,831.41 L1394.90,831.26 L1396.40,831.12 L1397.90,830.98 L1399.40,830.84 L1400.90,830.70 L1402.40,830.56 L1403.90,830.42 L1405.40,830.28 L1406.90,830.14 L1408.40,830.00 L1409.90,829.87 L1411.40,829.73 L1412.90,829.59 L1414.40,829.46 L1415.90,829.32 L1417.40,829.19 L1418.90,829.05 L1420.40,828.92 L1421.90,828.79 L1423.40,828.65 L1424.90,828.52 L1426.40,828.39 L1427.90,828.26 L1429.40,828.12 L1430.90,827.99 L1432.40,827.86 L1433.90,827.73 L1435.40,827.60 L1436.90,827.47 L1438.40,827.35 L1439.90,827.22 L1441.40,827.09 L1442.90,826.96 L1444.40,826.84 L1445.90,826.71 L1447.40,826.58 L1448.90,826.46 L1450.40,826.33 L1451.90,826.21 L1453.40,826.08 L1454.90,825.96 L1456.40,825.84 L1457.90,825.71 L1459.40,825.59 L1460.90,825.47 L1462.40,825.35 L1463.90,825.23 L1465.40,825.11 L1466.90,824.99 L1468.40,824.87 L1469.90,824.75 L1471.40,824.63 L1472.90,824.51 L1474.40,824.39 L1475.90,824.27 L1477.40,824.16 L1478.90,824.04 L1480.40,823.92 L1481.90,823.81 L1483.40,823.69 L1484.90,823.58 L1486.40,823.46 L1487.90,823.35 L1489.40,823.23 L1490.90,823.12 L1492.40,823.00 L1493.90,822.89 L1495.40,822.78 L1496.90,822.67 L1498.40,822.55 L1499.90,822.44 L1501.40,822.33 L1502.90,822.22 L1504.40,822.11 L1505.90,822.00 L1507.40,821.89 L1508.90,821.78 L1510.40,821.67 L1511.90,821.57 L1513.40,821.46 L1514.90,821.35 L1516.40,821.24 L1517.90,821.14 L1519.40,821.03 L1520.90,820.92 L1522.40,820.82 L1523.90,820.71 L1525.40,820.61 L1526.90,820.50 L1528.40,820.40 L1529.90,820.29 L1531.40,820.19 L1532.90,820.09 L1534.40,819.98 L1535.90,819.88 L1537.40,819.78 L1538.90,819.68 L1540.40,819.57 L1541.90,819.47 L1543.40,819.37 L1544.90,819.27 L1546.40,819.17 L1547.90,819.07 L1549.40,818.97 L1550.90,818.87 L1552.40,818.77 L1553.90,818.68 L1555.40,818.58 L1556.90,818.48 L1558.40,818.38 L1559.90,818.29 L1561.40,818.19 L1562.90,818.09 L1564.40,818.00 L1565.90,817.90 L1567.40,817.81 L1568.90,817.71 L1570.40,817.61 L1571.90,817.52 L1573.40,817.43 L1574.90,817.33 L1576.40,817.24 L1577.90,817.15 L1579.40,817.05 L1580.90,816.96 L1582.40,816.87 L1583.90,816.78 L1585.40,816.68 L1586.90,816.59 L1588.40,816.50 L1589.90,816.41 L1591.40,816.32 L1592.90,816.23 L1594.40,816.14 L1595.90,816.05 L1597.40,815.96 L1598.90,815.87 L1600.00,815.81" stroke="#f00" stroke-width="6" stroke-dasharray="15.8 12.600" stroke-dashoffset="25.05"/>
</g>
<g stroke="#000" stroke-width="1" fill="none" shape-rendering="crispEdges">
<rect x="187.5" y="12.5" width="1405.0" height="954.0"/>
<path d="M338.5,966.5 V952.0 M338.5,12.5 V27.0"/>
<path d="M589.5,966.5 V952.0 M589.5,12.5 V27.0"/>
<path d="M839.5,966.5 V952.0 M839.5,12.5 V27.0"/>
<path d="M1090.5,966.5 V952.0 M1090.5,12.5 V27.0"/>
<path d="M1341.5,966.5 V952.0 M1341.5,12.5 V27.0"/>
<path d="M187.5,63.5 H202.0 M1592.5,63.5 H1578.0"/>
<path d="M187.5,167.5 H202.0 M1592.5,167.5 H1578.0"/>
<path d="M187.5,270.5 H202.0 M1592.5,270.5 H1578.0"/>
<path d="M187.5,373.5 H202.0 M1592.5,373.5 H1578.0"/>
<path d="M187.5,476.5 H202.0 M1592.5,476.5 H1578.0"/>
<path d="M187.5,579.5 H202.0 M1592.5,579.5 H1578.0"/>
<path d="M187.5,682.5 H202.0 M1592.5,682.5 H1578.0"/>
<path d="M187.5,785.5 H202.0 M1592.5,785.5 H1578.0"/>
<path d="M187.5,889.5 H202.0 M1592.5,889.5 H1578.0"/>
</g>
<g class="tk">
<text transform="translate(338.10,1014.2) scale(0.955,1)" text-anchor="middle">3.5</text>
<text transform="translate(588.75,1014.2) scale(0.955,1)" text-anchor="middle">4</text>
<text transform="translate(839.35,1014.2) scale(0.955,1)" text-anchor="middle">4.5</text>
<text transform="translate(1090.40,1014.2) scale(0.955,1)" text-anchor="middle">5</text>
<text transform="translate(1341.10,1014.2) scale(0.955,1)" text-anchor="middle">5.5</text>
<text transform="translate(1591.10,1014.2) scale(0.955,1)" text-anchor="middle">6</text>
<text transform="translate(124.03,79.20) scale(0.5666,0.9538)" stroke="#000" stroke-width="1.4" vector-effect="non-scaling-stroke" stroke-linejoin="miter">1</text>
<text transform="translate(180.0,79.90) scale(0.955,1)" text-anchor="end">.4</text>
<text transform="translate(124.03,183.20) scale(0.5666,0.9538)" stroke="#000" stroke-width="1.4" vector-effect="non-scaling-stroke" stroke-linejoin="miter">1</text>
<text transform="translate(180.0,183.90) scale(0.955,1)" text-anchor="end">.2</text>
<text transform="translate(158.95,286.20) scale(0.5959,0.9538)" stroke="#000" stroke-width="1.4" vector-effect="non-scaling-stroke" stroke-linejoin="miter">1</text>
<text transform="translate(180.0,389.90) scale(0.955,1)" text-anchor="end">0.8</text>
<text transform="translate(180.0,492.90) scale(0.955,1)" text-anchor="end">0.6</text>
<text transform="translate(180.0,595.90) scale(0.955,1)" text-anchor="end">0.4</text>
<text transform="translate(180.0,698.90) scale(0.955,1)" text-anchor="end">0.2</text>
<text transform="translate(180.0,801.90) scale(0.955,1)" text-anchor="end">0</text>
<text transform="translate(180.0,905.90) scale(0.955,1)" text-anchor="end">−0.2</text>
</g>
<g class="sf">
<text transform="matrix(0.6246 0.0004 0 0.5263 835.65 1074.80)" font-size="100">r</text>
<text transform="matrix(0.5529 0.0004 0 0.6716 862.77 1076.50)" font-size="100" stroke="#fff" stroke-width="1.2" vector-effect="non-scaling-stroke">(</text>
<text transform="matrix(0.5475 0.0004 0 0.6302 885.67 1074.80)" font-size="100">Å</text>
<text transform="matrix(0.5529 0.0004 0 0.6716 927.52 1076.50)" font-size="100" stroke="#fff" stroke-width="1.2" vector-effect="non-scaling-stroke">)</text>
</g>
<g class="sf" transform="rotate(-90)">
<text transform="matrix(0.6916 0.0004 0 0.5880 -632.79 66.80)" font-size="100">P</text>
<text transform="matrix(0.5655 0.0004 0 0.5880 -590.13 66.80)" font-size="100">M</text>
<text transform="matrix(0.6413 0.0004 0 0.5880 -536.65 66.80)" font-size="100">F</text>
<text transform="matrix(0.5412 0.0004 0 0.6672 -474.68 68.40)" font-size="100" stroke="#fff" stroke-width="1.2" vector-effect="non-scaling-stroke">(</text>
<text transform="matrix(0.4878 0.0004 0 0.4230 -442.93 43.90)" font-size="100" font-style="italic">K</text>
<text transform="matrix(0.3852 0.0004 0 0.3763 -399.99 43.93)" font-size="100" font-style="italic">c</text>
<text transform="matrix(0.4669 0.0004 0 0.3763 -378.69 43.91)" font-size="100" font-style="italic">a</text>
<text transform="matrix(0.4145 0.0004 0 0.3992 -350.81 43.90)" font-size="100" font-style="italic">l</text>
<text transform="matrix(0.5652 0.0004 0 0.3756 -434.94 85.90)" font-size="100" font-style="italic">m</text>
<text transform="matrix(0.3860 0.0004 0 0.3763 -389.65 85.93)" font-size="100" font-style="italic">o</text>
<text transform="matrix(0.4244 0.0004 0 0.3978 -367.06 85.90)" font-size="100" font-style="italic">l</text>
<text transform="matrix(0.5178 0.0004 0 0.6672 -337.67 68.40)" font-size="100" stroke="#fff" stroke-width="1.2" vector-effect="non-scaling-stroke">)</text>
</g>
<rect x="50.8" y="346.2" width="3.0" height="100.1" fill="#000"/>
<rect x="1244.5" y="21.5" width="340" height="171" fill="#fff" stroke="#000" stroke-width="1" shape-rendering="crispEdges"/>
<g shape-rendering="crispEdges">
<rect x="1260" y="50" width="81" height="6" fill="#000"/>
<rect x="1260.0" y="104" width="2.2" height="6" fill="#000"/>
<rect x="1270.7" y="104" width="2.2" height="6" fill="#000"/>
<rect x="1281.4" y="104" width="2.2" height="6" fill="#000"/>
<rect x="1292.1" y="104" width="2.2" height="6" fill="#000"/>
<rect x="1302.8" y="104" width="2.2" height="6" fill="#000"/>
<rect x="1313.5" y="104" width="2.2" height="6" fill="#000"/>
<rect x="1324.2" y="104" width="2.2" height="6" fill="#000"/>
<rect x="1334.9" y="104" width="2.2" height="6" fill="#000"/>
<rect x="1260.0" y="158" width="15" height="6" fill="#f00"/>
<rect x="1288.7" y="158" width="15" height="6" fill="#f00"/>
<rect x="1317.4" y="158" width="15" height="6" fill="#f00"/>
</g>
<g class="sf">
<text transform="matrix(0.5275 0.0004 0 0.4551 1345.45 68.00)" font-size="100" font-style="italic">T</text>
<text transform="matrix(0.6017 0.0004 0 0.3600 1392.80 69.25)" font-size="100">=</text>
<text transform="matrix(0.3917 0.0004 0 0.4564 1440.51 68.15)" font-size="100">8</text>
<text transform="matrix(0.4695 0.0004 0 0.4564 1461.51 68.15)" font-size="100">0</text>
<text transform="matrix(0.4891 0.0004 0 0.4551 1488.87 68.00)" font-size="100" font-style="italic">K</text>
<text transform="matrix(0.5275 0.0004 0 0.4551 1345.45 121.80)" font-size="100" font-style="italic">T</text>
<text transform="matrix(0.6017 0.0004 0 0.3600 1392.80 123.05)" font-size="100">=</text>
<text transform="matrix(0.3863 0.0004 0 0.4514 1439.70 121.80)" font-size="100">1</text>
<text transform="matrix(0.4695 0.0004 0 0.4564 1461.51 121.95)" font-size="100">0</text>
<text transform="matrix(0.4648 0.0004 0 0.4564 1484.63 121.95)" font-size="100">0</text>
<text transform="matrix(0.4905 0.0004 0 0.4551 1511.97 121.80)" font-size="100" font-style="italic">K</text>
<text transform="matrix(0.5275 0.0004 0 0.4551 1345.45 175.70)" font-size="100" font-style="italic">T</text>
<text transform="matrix(0.6017 0.0004 0 0.3600 1392.80 176.95)" font-size="100">=</text>
<text transform="matrix(0.4019 0.0004 0 0.4584 1440.08 175.85)" font-size="100">3</text>
<text transform="matrix(0.4695 0.0004 0 0.4564 1461.51 175.85)" font-size="100">0</text>
<text transform="matrix(0.4648 0.0004 0 0.4564 1484.63 175.85)" font-size="100">0</text>
<text transform="matrix(0.4905 0.0004 0 0.4551 1511.97 175.70)" font-size="100" font-style="italic">K</text>
</g>
</svg></body></html>
